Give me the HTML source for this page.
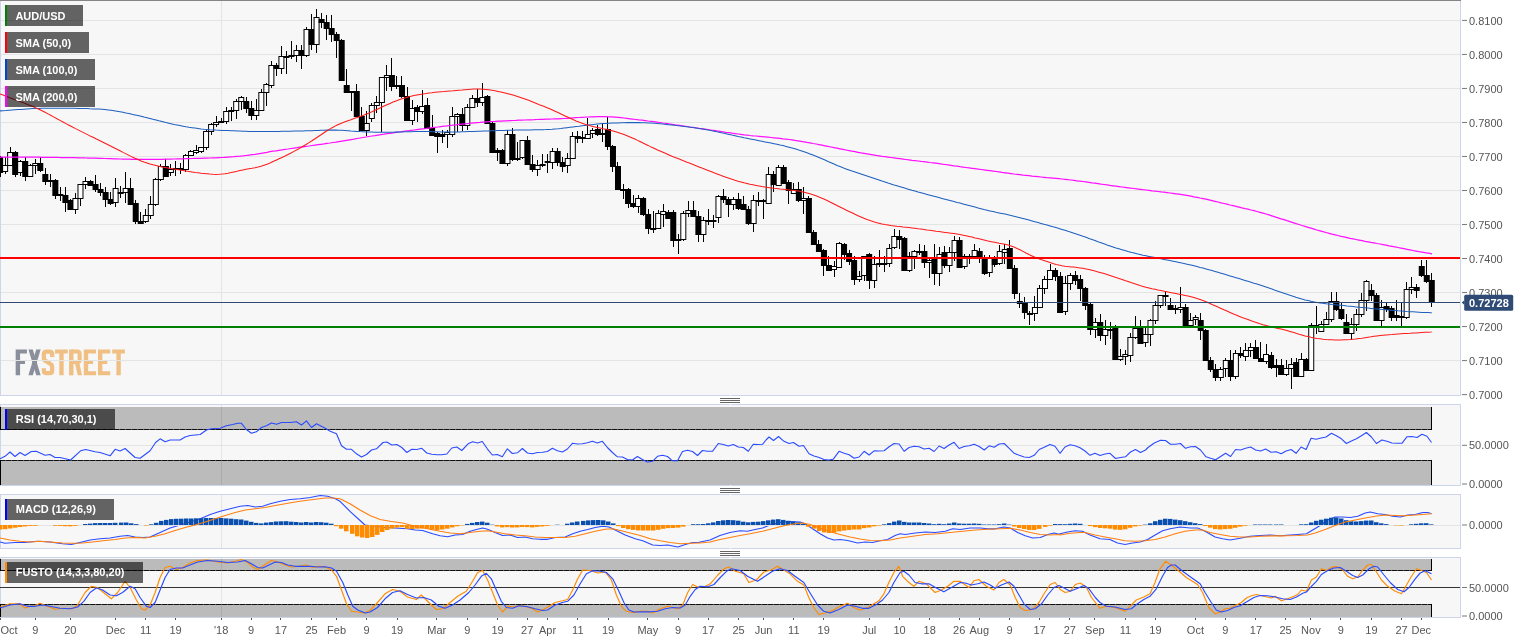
<!DOCTYPE html><html><head><meta charset="utf-8"><title>AUD/USD</title>
<style>
html,body{margin:0;padding:0;background:#fff;}
body{width:1531px;height:643px;overflow:hidden;position:relative;font-family:"Liberation Sans",sans-serif;}
svg{position:absolute;left:0;top:0;display:block;}
text{font-family:"Liberation Sans",sans-serif;}
.ax{font-size:11px;fill:#555;}
.lb{font-size:11px;font-weight:bold;fill:#fff;}
</style></head><body>
<svg width="1531" height="643" viewBox="0 0 1531 643" style="will-change:transform">
<rect x="0.5" y="0" width="1460" height="395.5" fill="#f7f7f7" stroke="#cdd5ea" stroke-width="1"/>
<rect x="0.5" y="404.5" width="1460" height="81.0" fill="#f7f7f7" stroke="#cdd5ea" stroke-width="1"/>
<rect x="0.5" y="494.5" width="1460" height="54.0" fill="#f7f7f7" stroke="#cdd5ea" stroke-width="1"/>
<rect x="0.5" y="557.5" width="1460" height="60.0" fill="#f7f7f7" stroke="#cdd5ea" stroke-width="1"/>
<rect x="0" y="0" width="1461" height="1" fill="#858585"/>
<g shape-rendering="crispEdges">
<line x1="1" x2="1460" y1="20.5" y2="20.5" stroke="#e4e4e4" stroke-width="1"/>
<line x1="1" x2="1460" y1="54.5" y2="54.5" stroke="#e4e4e4" stroke-width="1"/>
<line x1="1" x2="1460" y1="88.5" y2="88.5" stroke="#e4e4e4" stroke-width="1"/>
<line x1="1" x2="1460" y1="122.5" y2="122.5" stroke="#e4e4e4" stroke-width="1"/>
<line x1="1" x2="1460" y1="156.5" y2="156.5" stroke="#e4e4e4" stroke-width="1"/>
<line x1="1" x2="1460" y1="190.5" y2="190.5" stroke="#e4e4e4" stroke-width="1"/>
<line x1="1" x2="1460" y1="224.5" y2="224.5" stroke="#e4e4e4" stroke-width="1"/>
<line x1="1" x2="1460" y1="258.5" y2="258.5" stroke="#e4e4e4" stroke-width="1"/>
<line x1="1" x2="1460" y1="292.5" y2="292.5" stroke="#e4e4e4" stroke-width="1"/>
<line x1="1" x2="1460" y1="326.5" y2="326.5" stroke="#e4e4e4" stroke-width="1"/>
<line x1="1" x2="1460" y1="360.5" y2="360.5" stroke="#e4e4e4" stroke-width="1"/>
<line x1="221.5" x2="221.5" y1="0.5" y2="395.0" stroke="#e4e4e4" stroke-width="1"/>
<line x1="221.5" x2="221.5" y1="405.0" y2="485.0" stroke="#e4e4e4" stroke-width="1"/>
<line x1="221.5" x2="221.5" y1="495.0" y2="548.0" stroke="#e4e4e4" stroke-width="1"/>
<line x1="221.5" x2="221.5" y1="558.0" y2="617.0" stroke="#e4e4e4" stroke-width="1"/>
</g>
<g transform="translate(0,335) scale(0.09797)"><polygon fill="#8b8e9b" points="160,148 275,148 275,190 205,190 205,255 255,255 255,295 205,295 205,412 160,412"/><polygon fill="#8b8e9b" points="290,148 335,148 415,412 370,412"/><polygon fill="#8b8e9b" points="370,148 415,148 335,412 290,412"/><path fill="none" stroke="#f0bf84" stroke-width="44" d="M532,225 V195 Q532,170 505,170 H475 Q448,170 448,195 V238 Q448,258 470,268 L510,292 Q532,302 532,325 V365 Q532,390 505,390 H475 Q448,390 448,365 V340"/><polygon fill="#f0bf84" points="562,148 692,148 692,190 650,190 650,412 605,412 605,190 562,190"/><polygon fill="#f0bf84" points="1145,148 1275,148 1275,190 1233,190 1233,412 1188,412 1188,190 1145,190"/><rect fill="#f0bf84" x="705" y="148" width="45" height="264"/><path fill="none" stroke="#f0bf84" stroke-width="42" d="M727,169 H790 Q813,169 813,195 V250 Q813,276 790,276 H727"/><polygon fill="#f0bf84" points="765,285 810,285 837,412 793,412"/><polygon fill="#f0bf84" points="855,148 980,148 980,190 900,190 900,255 950,255 950,295 900,295 900,370 980,370 980,412 855,412"/><polygon fill="#f0bf84" points="1000,148 1125,148 1125,190 1045,190 1045,255 1095,255 1095,295 1045,295 1045,370 1125,370 1125,412 1000,412"/></g>
<line x1="1" x2="140" y1="360.5" y2="360.5" stroke="#e4e4e4" stroke-width="1" shape-rendering="crispEdges"/>
<g shape-rendering="crispEdges" fill="#000"><rect x="0" y="156" width="1" height="21"/><rect x="5" y="157" width="1" height="17"/><rect x="10" y="147" width="1" height="19"/><rect x="15" y="151" width="1" height="26"/><rect x="20" y="160" width="1" height="16"/><rect x="25" y="157" width="1" height="24"/><rect x="30" y="164" width="1" height="13"/><rect x="35" y="159" width="1" height="15"/><rect x="40" y="157" width="1" height="15"/><rect x="45" y="168" width="1" height="17"/><rect x="50" y="174" width="1" height="13"/><rect x="55" y="179" width="1" height="20"/><rect x="60" y="187" width="1" height="14"/><rect x="65" y="187" width="1" height="25"/><rect x="70" y="199" width="1" height="11"/><rect x="75" y="193" width="1" height="21"/><rect x="80" y="184" width="1" height="22"/><rect x="85" y="177" width="1" height="12"/><rect x="90" y="180" width="1" height="6"/><rect x="95" y="175" width="1" height="17"/><rect x="100" y="183" width="1" height="13"/><rect x="105" y="187" width="1" height="20"/><rect x="110" y="192" width="1" height="13"/><rect x="115" y="178" width="1" height="29"/><rect x="120" y="186" width="1" height="12"/><rect x="125" y="172" width="1" height="31"/><rect x="130" y="178" width="1" height="26"/><rect x="135" y="200" width="1" height="24"/><rect x="140" y="212" width="1" height="12"/><rect x="145" y="209" width="1" height="14"/><rect x="150" y="196" width="1" height="23"/><rect x="155" y="178" width="1" height="28"/><rect x="160" y="164" width="1" height="17"/><rect x="165" y="159" width="1" height="17"/><rect x="170" y="164" width="1" height="12"/><rect x="175" y="161" width="1" height="15"/><rect x="180" y="163" width="1" height="11"/><rect x="185" y="154" width="1" height="18"/><rect x="190" y="150" width="1" height="6"/><rect x="196" y="145" width="1" height="9"/><rect x="201" y="147" width="1" height="6"/><rect x="206" y="130" width="1" height="20"/><rect x="211" y="123" width="1" height="12"/><rect x="216" y="116" width="1" height="11"/><rect x="221" y="118" width="1" height="5"/><rect x="226" y="107" width="1" height="17"/><rect x="231" y="107" width="1" height="14"/><rect x="236" y="99" width="1" height="20"/><rect x="241" y="96" width="1" height="14"/><rect x="246" y="97" width="1" height="16"/><rect x="251" y="101" width="1" height="19"/><rect x="256" y="99" width="1" height="21"/><rect x="261" y="89" width="1" height="22"/><rect x="266" y="83" width="1" height="23"/><rect x="271" y="61" width="1" height="27"/><rect x="276" y="63" width="1" height="13"/><rect x="281" y="46" width="1" height="28"/><rect x="286" y="51" width="1" height="23"/><rect x="291" y="41" width="1" height="18"/><rect x="296" y="45" width="1" height="17"/><rect x="301" y="45" width="1" height="24"/><rect x="306" y="27" width="1" height="30"/><rect x="311" y="14" width="1" height="36"/><rect x="316" y="9" width="1" height="44"/><rect x="321" y="13" width="1" height="15"/><rect x="326" y="15" width="1" height="25"/><rect x="331" y="15" width="1" height="27"/><rect x="336" y="32" width="1" height="26"/><rect x="341" y="39" width="1" height="42"/><rect x="346" y="69" width="1" height="24"/><rect x="351" y="91" width="1" height="20"/><rect x="356" y="84" width="1" height="32"/><rect x="361" y="107" width="1" height="24"/><rect x="366" y="111" width="1" height="25"/><rect x="371" y="103" width="1" height="19"/><rect x="376" y="96" width="1" height="17"/><rect x="381" y="77" width="1" height="55"/><rect x="386" y="65" width="1" height="26"/><rect x="391" y="58" width="1" height="33"/><rect x="396" y="76" width="1" height="13"/><rect x="401" y="76" width="1" height="22"/><rect x="407" y="87" width="1" height="34"/><rect x="412" y="100" width="1" height="25"/><rect x="417" y="105" width="1" height="17"/><rect x="422" y="90" width="1" height="24"/><rect x="427" y="98" width="1" height="31"/><rect x="432" y="115" width="1" height="21"/><rect x="437" y="132" width="1" height="21"/><rect x="442" y="130" width="1" height="13"/><rect x="447" y="130" width="1" height="18"/><rect x="452" y="107" width="1" height="30"/><rect x="457" y="113" width="1" height="19"/><rect x="462" y="108" width="1" height="23"/><rect x="467" y="104" width="1" height="26"/><rect x="472" y="95" width="1" height="12"/><rect x="477" y="89" width="1" height="18"/><rect x="482" y="83" width="1" height="23"/><rect x="487" y="95" width="1" height="29"/><rect x="492" y="121" width="1" height="32"/><rect x="497" y="148" width="1" height="13"/><rect x="502" y="149" width="1" height="15"/><rect x="507" y="130" width="1" height="36"/><rect x="512" y="128" width="1" height="33"/><rect x="517" y="142" width="1" height="19"/><rect x="522" y="140" width="1" height="19"/><rect x="527" y="136" width="1" height="29"/><rect x="532" y="155" width="1" height="17"/><rect x="537" y="160" width="1" height="16"/><rect x="542" y="154" width="1" height="13"/><rect x="547" y="154" width="1" height="19"/><rect x="552" y="148" width="1" height="21"/><rect x="557" y="148" width="1" height="18"/><rect x="562" y="157" width="1" height="15"/><rect x="567" y="153" width="1" height="20"/><rect x="572" y="132" width="1" height="27"/><rect x="577" y="131" width="1" height="12"/><rect x="582" y="131" width="1" height="12"/><rect x="587" y="118" width="1" height="21"/><rect x="592" y="128" width="1" height="10"/><rect x="597" y="125" width="1" height="11"/><rect x="602" y="123" width="1" height="19"/><rect x="607" y="117" width="1" height="33"/><rect x="612" y="145" width="1" height="27"/><rect x="617" y="162" width="1" height="28"/><rect x="623" y="184" width="1" height="15"/><rect x="628" y="188" width="1" height="20"/><rect x="633" y="195" width="1" height="13"/><rect x="638" y="195" width="1" height="18"/><rect x="643" y="197" width="1" height="19"/><rect x="648" y="209" width="1" height="25"/><rect x="653" y="211" width="1" height="22"/><rect x="658" y="210" width="1" height="18"/><rect x="663" y="204" width="1" height="23"/><rect x="668" y="210" width="1" height="9"/><rect x="673" y="210" width="1" height="37"/><rect x="678" y="234" width="1" height="20"/><rect x="683" y="211" width="1" height="30"/><rect x="688" y="201" width="1" height="16"/><rect x="693" y="201" width="1" height="15"/><rect x="698" y="211" width="1" height="31"/><rect x="703" y="217" width="1" height="25"/><rect x="708" y="209" width="1" height="16"/><rect x="713" y="215" width="1" height="13"/><rect x="718" y="195" width="1" height="28"/><rect x="723" y="189" width="1" height="14"/><rect x="728" y="197" width="1" height="20"/><rect x="733" y="197" width="1" height="13"/><rect x="738" y="193" width="1" height="17"/><rect x="743" y="196" width="1" height="14"/><rect x="748" y="206" width="1" height="19"/><rect x="753" y="195" width="1" height="37"/><rect x="758" y="192" width="1" height="14"/><rect x="763" y="199" width="1" height="20"/><rect x="768" y="167" width="1" height="37"/><rect x="773" y="171" width="1" height="21"/><rect x="778" y="165" width="1" height="21"/><rect x="783" y="165" width="1" height="19"/><rect x="788" y="180" width="1" height="24"/><rect x="793" y="183" width="1" height="11"/><rect x="798" y="182" width="1" height="20"/><rect x="803" y="187" width="1" height="27"/><rect x="808" y="196" width="1" height="37"/><rect x="813" y="230" width="1" height="15"/><rect x="818" y="240" width="1" height="12"/><rect x="823" y="249" width="1" height="27"/><rect x="828" y="256" width="1" height="14"/><rect x="834" y="261" width="1" height="16"/><rect x="839" y="242" width="1" height="26"/><rect x="844" y="243" width="1" height="17"/><rect x="849" y="250" width="1" height="15"/><rect x="854" y="256" width="1" height="29"/><rect x="859" y="271" width="1" height="11"/><rect x="864" y="256" width="1" height="25"/><rect x="869" y="253" width="1" height="36"/><rect x="874" y="256" width="1" height="32"/><rect x="879" y="250" width="1" height="17"/><rect x="884" y="256" width="1" height="16"/><rect x="889" y="244" width="1" height="23"/><rect x="894" y="229" width="1" height="20"/><rect x="899" y="230" width="1" height="19"/><rect x="904" y="237" width="1" height="34"/><rect x="909" y="252" width="1" height="20"/><rect x="914" y="250" width="1" height="19"/><rect x="919" y="244" width="1" height="11"/><rect x="924" y="245" width="1" height="23"/><rect x="929" y="257" width="1" height="21"/><rect x="934" y="244" width="1" height="41"/><rect x="939" y="247" width="1" height="39"/><rect x="944" y="246" width="1" height="22"/><rect x="949" y="247" width="1" height="25"/><rect x="954" y="236" width="1" height="25"/><rect x="959" y="237" width="1" height="31"/><rect x="964" y="254" width="1" height="15"/><rect x="969" y="254" width="1" height="10"/><rect x="974" y="244" width="1" height="13"/><rect x="979" y="248" width="1" height="15"/><rect x="984" y="255" width="1" height="20"/><rect x="989" y="255" width="1" height="22"/><rect x="994" y="256" width="1" height="11"/><rect x="999" y="245" width="1" height="20"/><rect x="1004" y="244" width="1" height="20"/><rect x="1009" y="240" width="1" height="29"/><rect x="1014" y="265" width="1" height="34"/><rect x="1019" y="293" width="1" height="15"/><rect x="1024" y="297" width="1" height="22"/><rect x="1029" y="311" width="1" height="14"/><rect x="1034" y="296" width="1" height="25"/><rect x="1039" y="285" width="1" height="23"/><rect x="1044" y="276" width="1" height="18"/><rect x="1050" y="264" width="1" height="16"/><rect x="1055" y="268" width="1" height="13"/><rect x="1060" y="272" width="1" height="41"/><rect x="1065" y="276" width="1" height="39"/><rect x="1070" y="273" width="1" height="17"/><rect x="1075" y="271" width="1" height="14"/><rect x="1080" y="275" width="1" height="26"/><rect x="1085" y="287" width="1" height="23"/><rect x="1090" y="303" width="1" height="32"/><rect x="1095" y="318" width="1" height="20"/><rect x="1100" y="314" width="1" height="27"/><rect x="1105" y="320" width="1" height="25"/><rect x="1110" y="322" width="1" height="17"/><rect x="1115" y="325" width="1" height="35"/><rect x="1120" y="349" width="1" height="12"/><rect x="1125" y="350" width="1" height="15"/><rect x="1130" y="333" width="1" height="29"/><rect x="1135" y="316" width="1" height="23"/><rect x="1140" y="320" width="1" height="24"/><rect x="1145" y="328" width="1" height="19"/><rect x="1150" y="319" width="1" height="27"/><rect x="1155" y="301" width="1" height="23"/><rect x="1160" y="295" width="1" height="13"/><rect x="1165" y="291" width="1" height="15"/><rect x="1170" y="298" width="1" height="11"/><rect x="1175" y="305" width="1" height="9"/><rect x="1180" y="287" width="1" height="26"/><rect x="1185" y="304" width="1" height="21"/><rect x="1190" y="313" width="1" height="13"/><rect x="1195" y="315" width="1" height="10"/><rect x="1200" y="313" width="1" height="27"/><rect x="1205" y="329" width="1" height="31"/><rect x="1210" y="357" width="1" height="15"/><rect x="1215" y="364" width="1" height="17"/><rect x="1220" y="367" width="1" height="14"/><rect x="1225" y="358" width="1" height="19"/><rect x="1230" y="350" width="1" height="31"/><rect x="1235" y="350" width="1" height="29"/><rect x="1240" y="347" width="1" height="11"/><rect x="1245" y="343" width="1" height="18"/><rect x="1250" y="343" width="1" height="14"/><rect x="1255" y="340" width="1" height="19"/><rect x="1260" y="342" width="1" height="20"/><rect x="1266" y="344" width="1" height="20"/><rect x="1271" y="352" width="1" height="17"/><rect x="1276" y="359" width="1" height="18"/><rect x="1281" y="359" width="1" height="16"/><rect x="1286" y="360" width="1" height="16"/><rect x="1291" y="358" width="1" height="31"/><rect x="1296" y="358" width="1" height="19"/><rect x="1301" y="353" width="1" height="24"/><rect x="1306" y="358" width="1" height="13"/><rect x="1311" y="323" width="1" height="48"/><rect x="1316" y="306" width="1" height="28"/><rect x="1321" y="321" width="1" height="11"/><rect x="1326" y="312" width="1" height="13"/><rect x="1331" y="292" width="1" height="30"/><rect x="1336" y="292" width="1" height="19"/><rect x="1341" y="303" width="1" height="17"/><rect x="1346" y="314" width="1" height="20"/><rect x="1351" y="318" width="1" height="22"/><rect x="1356" y="309" width="1" height="22"/><rect x="1361" y="293" width="1" height="24"/><rect x="1366" y="280" width="1" height="31"/><rect x="1371" y="284" width="1" height="17"/><rect x="1376" y="293" width="1" height="28"/><rect x="1381" y="300" width="1" height="26"/><rect x="1386" y="303" width="1" height="9"/><rect x="1391" y="306" width="1" height="15"/><rect x="1396" y="300" width="1" height="21"/><rect x="1401" y="302" width="1" height="24"/><rect x="1406" y="282" width="1" height="37"/><rect x="1411" y="277" width="1" height="17"/><rect x="1416" y="284" width="1" height="14"/><rect x="1421" y="260" width="1" height="17"/><rect x="1426" y="260" width="1" height="23"/><rect x="1431" y="273" width="1" height="34"/></g>
<g fill="#000"><rect x="-2.90" y="157" width="6" height="16"/><rect x="2.12" y="165" width="6" height="7"/><rect x="3.12" y="166" width="4" height="5" fill="#fff"/><rect x="7.15" y="152" width="6" height="14"/><rect x="8.15" y="153" width="4" height="12" fill="#fff"/><rect x="12.17" y="152" width="6" height="23"/><rect x="17.19" y="161" width="6" height="12"/><rect x="18.19" y="162" width="4" height="10" fill="#fff"/><rect x="22.22" y="161" width="6" height="16"/><rect x="27.24" y="165" width="6" height="12"/><rect x="28.24" y="166" width="4" height="10" fill="#fff"/><rect x="32.26" y="163" width="6" height="3"/><rect x="33.26" y="164" width="4" height="1" fill="#fff"/><rect x="37.29" y="163" width="6" height="8"/><rect x="42.31" y="174" width="6" height="8"/><rect x="47.34" y="180" width="6" height="2"/><rect x="52.36" y="180" width="6" height="16"/><rect x="57.38" y="194" width="6" height="2"/><rect x="62.41" y="195" width="6" height="8"/><rect x="67.43" y="200" width="6" height="10"/><rect x="72.45" y="198" width="6" height="12"/><rect x="73.45" y="199" width="4" height="10" fill="#fff"/><rect x="77.48" y="184" width="6" height="15"/><rect x="78.48" y="185" width="4" height="13" fill="#fff"/><rect x="82.50" y="181" width="6" height="4"/><rect x="83.50" y="182" width="4" height="2" fill="#fff"/><rect x="87.52" y="181" width="6" height="5"/><rect x="92.55" y="184" width="6" height="6"/><rect x="97.57" y="189" width="6" height="4"/><rect x="102.59" y="192" width="6" height="8"/><rect x="107.62" y="199" width="6" height="5"/><rect x="112.64" y="188" width="6" height="15"/><rect x="113.64" y="189" width="4" height="13" fill="#fff"/><rect x="117.66" y="192" width="6" height="2"/><rect x="122.69" y="188" width="6" height="5"/><rect x="123.69" y="189" width="4" height="3" fill="#fff"/><rect x="127.71" y="188" width="6" height="17"/><rect x="132.73" y="203" width="6" height="19"/><rect x="137.76" y="221" width="6" height="3"/><rect x="142.78" y="215" width="6" height="7"/><rect x="143.78" y="216" width="4" height="5" fill="#fff"/><rect x="147.81" y="204" width="6" height="12"/><rect x="148.81" y="205" width="4" height="10" fill="#fff"/><rect x="152.83" y="179" width="6" height="26"/><rect x="153.83" y="180" width="4" height="24" fill="#fff"/><rect x="157.85" y="166" width="6" height="14"/><rect x="158.85" y="167" width="4" height="12" fill="#fff"/><rect x="162.88" y="166" width="6" height="11"/><rect x="167.90" y="169" width="6" height="4"/><rect x="168.90" y="170" width="4" height="2" fill="#fff"/><rect x="172.92" y="168" width="6" height="2"/><rect x="177.95" y="168" width="6" height="2"/><rect x="182.97" y="155" width="6" height="15"/><rect x="183.97" y="156" width="4" height="13" fill="#fff"/><rect x="187.99" y="151" width="6" height="5"/><rect x="188.99" y="152" width="4" height="3" fill="#fff"/><rect x="193.02" y="150" width="6" height="3"/><rect x="194.02" y="151" width="4" height="1" fill="#fff"/><rect x="198.04" y="147" width="6" height="5"/><rect x="199.04" y="148" width="4" height="3" fill="#fff"/><rect x="203.06" y="131" width="6" height="17"/><rect x="204.06" y="132" width="4" height="15" fill="#fff"/><rect x="208.09" y="124" width="6" height="8"/><rect x="209.09" y="125" width="4" height="6" fill="#fff"/><rect x="213.11" y="122" width="6" height="3"/><rect x="214.11" y="123" width="4" height="1" fill="#fff"/><rect x="218.13" y="121" width="6" height="2"/><rect x="223.16" y="111" width="6" height="11"/><rect x="224.16" y="112" width="4" height="9" fill="#fff"/><rect x="228.18" y="110" width="6" height="2"/><rect x="233.20" y="101" width="6" height="10"/><rect x="234.20" y="102" width="4" height="8" fill="#fff"/><rect x="238.23" y="97" width="6" height="5"/><rect x="239.23" y="98" width="4" height="3" fill="#fff"/><rect x="243.25" y="101" width="6" height="8"/><rect x="248.28" y="108" width="6" height="8"/><rect x="253.30" y="110" width="6" height="6"/><rect x="254.30" y="111" width="4" height="4" fill="#fff"/><rect x="258.32" y="92" width="6" height="19"/><rect x="259.32" y="93" width="4" height="17" fill="#fff"/><rect x="263.35" y="84" width="6" height="9"/><rect x="264.35" y="85" width="4" height="7" fill="#fff"/><rect x="268.37" y="65" width="6" height="21"/><rect x="269.37" y="66" width="4" height="19" fill="#fff"/><rect x="273.39" y="65" width="6" height="4"/><rect x="278.42" y="56" width="6" height="13"/><rect x="279.42" y="57" width="4" height="11" fill="#fff"/><rect x="283.44" y="56" width="6" height="2"/><rect x="288.46" y="55" width="6" height="2"/><rect x="293.49" y="50" width="6" height="6"/><rect x="294.49" y="51" width="4" height="4" fill="#fff"/><rect x="298.51" y="50" width="6" height="6"/><rect x="303.53" y="29" width="6" height="27"/><rect x="304.53" y="30" width="4" height="25" fill="#fff"/><rect x="308.56" y="29" width="6" height="16"/><rect x="313.58" y="17" width="6" height="28"/><rect x="314.58" y="18" width="4" height="26" fill="#fff"/><rect x="318.60" y="19" width="6" height="4"/><rect x="323.63" y="22" width="6" height="7"/><rect x="328.65" y="28" width="6" height="7"/><rect x="333.67" y="34" width="6" height="7"/><rect x="338.70" y="40" width="6" height="41"/><rect x="343.72" y="85" width="6" height="8"/><rect x="348.75" y="91" width="6" height="2"/><rect x="353.77" y="91" width="6" height="26"/><rect x="358.79" y="116" width="6" height="15"/><rect x="363.82" y="123" width="6" height="8"/><rect x="364.82" y="124" width="4" height="6" fill="#fff"/><rect x="368.84" y="105" width="6" height="14"/><rect x="369.84" y="106" width="4" height="12" fill="#fff"/><rect x="373.86" y="102" width="6" height="4"/><rect x="374.86" y="103" width="4" height="2" fill="#fff"/><rect x="378.89" y="77" width="6" height="26"/><rect x="379.89" y="78" width="4" height="24" fill="#fff"/><rect x="383.91" y="75" width="6" height="3"/><rect x="384.91" y="76" width="4" height="1" fill="#fff"/><rect x="388.93" y="75" width="6" height="12"/><rect x="393.96" y="85" width="6" height="2"/><rect x="398.98" y="85" width="6" height="12"/><rect x="404.00" y="96" width="6" height="25"/><rect x="409.03" y="108" width="6" height="13"/><rect x="410.03" y="109" width="4" height="11" fill="#fff"/><rect x="414.05" y="107" width="6" height="5"/><rect x="419.07" y="106" width="6" height="6"/><rect x="420.07" y="107" width="4" height="4" fill="#fff"/><rect x="424.10" y="105" width="6" height="24"/><rect x="429.12" y="128" width="6" height="8"/><rect x="434.14" y="133" width="6" height="4"/><rect x="439.17" y="134" width="6" height="3"/><rect x="444.19" y="132" width="6" height="3"/><rect x="445.19" y="133" width="4" height="1" fill="#fff"/><rect x="449.22" y="116" width="6" height="19"/><rect x="450.22" y="117" width="4" height="17" fill="#fff"/><rect x="454.24" y="114" width="6" height="3"/><rect x="455.24" y="115" width="4" height="1" fill="#fff"/><rect x="459.26" y="114" width="6" height="12"/><rect x="464.29" y="107" width="6" height="19"/><rect x="465.29" y="108" width="4" height="17" fill="#fff"/><rect x="469.31" y="98" width="6" height="10"/><rect x="470.31" y="99" width="4" height="8" fill="#fff"/><rect x="474.33" y="98" width="6" height="5"/><rect x="479.36" y="97" width="6" height="6"/><rect x="480.36" y="98" width="4" height="4" fill="#fff"/><rect x="484.38" y="96" width="6" height="28"/><rect x="489.40" y="123" width="6" height="30"/><rect x="494.43" y="150" width="6" height="3"/><rect x="499.45" y="150" width="6" height="14"/><rect x="504.47" y="134" width="6" height="30"/><rect x="505.47" y="135" width="4" height="28" fill="#fff"/><rect x="509.50" y="134" width="6" height="26"/><rect x="514.52" y="158" width="6" height="2"/><rect x="519.54" y="140" width="6" height="18"/><rect x="520.54" y="141" width="4" height="16" fill="#fff"/><rect x="524.57" y="140" width="6" height="25"/><rect x="529.59" y="164" width="6" height="6"/><rect x="534.61" y="165" width="6" height="5"/><rect x="535.61" y="166" width="4" height="3" fill="#fff"/><rect x="539.64" y="164" width="6" height="2"/><rect x="544.66" y="161" width="6" height="2"/><rect x="549.69" y="151" width="6" height="12"/><rect x="550.69" y="152" width="4" height="10" fill="#fff"/><rect x="554.71" y="151" width="6" height="12"/><rect x="559.73" y="162" width="6" height="5"/><rect x="564.76" y="158" width="6" height="8"/><rect x="565.76" y="159" width="4" height="6" fill="#fff"/><rect x="569.78" y="136" width="6" height="23"/><rect x="570.78" y="137" width="4" height="21" fill="#fff"/><rect x="574.80" y="136" width="6" height="3"/><rect x="579.83" y="137" width="6" height="2"/><rect x="584.85" y="134" width="6" height="5"/><rect x="585.85" y="135" width="4" height="3" fill="#fff"/><rect x="589.87" y="130" width="6" height="4"/><rect x="590.87" y="131" width="4" height="2" fill="#fff"/><rect x="594.90" y="129" width="6" height="6"/><rect x="599.92" y="133" width="6" height="2"/><rect x="604.94" y="129" width="6" height="18"/><rect x="609.97" y="146" width="6" height="21"/><rect x="614.99" y="166" width="6" height="24"/><rect x="620.01" y="189" width="6" height="2"/><rect x="625.04" y="189" width="6" height="15"/><rect x="630.06" y="203" width="6" height="4"/><rect x="635.08" y="198" width="6" height="9"/><rect x="636.08" y="199" width="4" height="7" fill="#fff"/><rect x="640.11" y="198" width="6" height="17"/><rect x="645.13" y="214" width="6" height="15"/><rect x="650.16" y="228" width="6" height="2"/><rect x="655.18" y="213" width="6" height="16"/><rect x="656.18" y="214" width="4" height="14" fill="#fff"/><rect x="660.20" y="211" width="6" height="4"/><rect x="661.20" y="212" width="4" height="2" fill="#fff"/><rect x="665.23" y="212" width="6" height="7"/><rect x="670.25" y="212" width="6" height="29"/><rect x="675.27" y="239" width="6" height="2"/><rect x="680.30" y="213" width="6" height="27"/><rect x="681.30" y="214" width="4" height="25" fill="#fff"/><rect x="685.32" y="210" width="6" height="4"/><rect x="686.32" y="211" width="4" height="2" fill="#fff"/><rect x="690.34" y="210" width="6" height="7"/><rect x="695.37" y="216" width="6" height="19"/><rect x="700.39" y="220" width="6" height="15"/><rect x="701.39" y="221" width="4" height="13" fill="#fff"/><rect x="705.41" y="220" width="6" height="2"/><rect x="710.44" y="220" width="6" height="2"/><rect x="715.46" y="196" width="6" height="22"/><rect x="716.46" y="197" width="4" height="20" fill="#fff"/><rect x="720.48" y="196" width="6" height="4"/><rect x="725.51" y="199" width="6" height="6"/><rect x="730.53" y="199" width="6" height="6"/><rect x="731.53" y="200" width="4" height="4" fill="#fff"/><rect x="735.55" y="199" width="6" height="10"/><rect x="740.58" y="204" width="6" height="6"/><rect x="745.60" y="209" width="6" height="15"/><rect x="750.63" y="200" width="6" height="24"/><rect x="751.63" y="201" width="4" height="22" fill="#fff"/><rect x="755.65" y="200" width="6" height="2"/><rect x="760.67" y="200" width="6" height="2"/><rect x="765.70" y="174" width="6" height="30"/><rect x="766.70" y="175" width="4" height="28" fill="#fff"/><rect x="770.72" y="174" width="6" height="11"/><rect x="775.74" y="167" width="6" height="19"/><rect x="776.74" y="168" width="4" height="17" fill="#fff"/><rect x="780.77" y="167" width="6" height="17"/><rect x="785.79" y="182" width="6" height="9"/><rect x="790.81" y="189" width="6" height="5"/><rect x="791.81" y="190" width="4" height="3" fill="#fff"/><rect x="795.84" y="189" width="6" height="12"/><rect x="800.86" y="198" width="6" height="3"/><rect x="801.86" y="199" width="4" height="1" fill="#fff"/><rect x="805.88" y="198" width="6" height="35"/><rect x="810.91" y="232" width="6" height="13"/><rect x="815.93" y="244" width="6" height="8"/><rect x="820.95" y="250" width="6" height="16"/><rect x="825.98" y="265" width="6" height="6"/><rect x="831.00" y="266" width="6" height="4"/><rect x="832.00" y="267" width="4" height="2" fill="#fff"/><rect x="836.02" y="243" width="6" height="25"/><rect x="837.02" y="244" width="4" height="23" fill="#fff"/><rect x="841.05" y="244" width="6" height="11"/><rect x="846.07" y="253" width="6" height="9"/><rect x="851.10" y="260" width="6" height="20"/><rect x="856.12" y="276" width="6" height="4"/><rect x="857.12" y="277" width="4" height="2" fill="#fff"/><rect x="861.14" y="256" width="6" height="20"/><rect x="862.14" y="257" width="4" height="18" fill="#fff"/><rect x="866.17" y="254" width="6" height="27"/><rect x="871.19" y="264" width="6" height="17"/><rect x="872.19" y="265" width="4" height="15" fill="#fff"/><rect x="876.21" y="263" width="6" height="2"/><rect x="881.24" y="263" width="6" height="2"/><rect x="886.26" y="248" width="6" height="16"/><rect x="887.26" y="249" width="4" height="14" fill="#fff"/><rect x="891.28" y="236" width="6" height="12"/><rect x="892.28" y="237" width="4" height="10" fill="#fff"/><rect x="896.31" y="236" width="6" height="4"/><rect x="901.33" y="238" width="6" height="33"/><rect x="906.35" y="256" width="6" height="15"/><rect x="907.35" y="257" width="4" height="13" fill="#fff"/><rect x="911.38" y="251" width="6" height="6"/><rect x="912.38" y="252" width="4" height="4" fill="#fff"/><rect x="916.40" y="251" width="6" height="2"/><rect x="921.42" y="251" width="6" height="12"/><rect x="926.45" y="260" width="6" height="3"/><rect x="927.45" y="261" width="4" height="1" fill="#fff"/><rect x="931.47" y="259" width="6" height="15"/><rect x="936.49" y="254" width="6" height="20"/><rect x="937.49" y="255" width="4" height="18" fill="#fff"/><rect x="941.52" y="252" width="6" height="14"/><rect x="946.54" y="252" width="6" height="14"/><rect x="947.54" y="253" width="4" height="12" fill="#fff"/><rect x="951.57" y="240" width="6" height="13"/><rect x="952.57" y="241" width="4" height="11" fill="#fff"/><rect x="956.59" y="240" width="6" height="28"/><rect x="961.61" y="256" width="6" height="11"/><rect x="962.61" y="257" width="4" height="9" fill="#fff"/><rect x="966.64" y="256" width="6" height="2"/><rect x="971.66" y="250" width="6" height="7"/><rect x="972.66" y="251" width="4" height="5" fill="#fff"/><rect x="976.68" y="251" width="6" height="7"/><rect x="981.71" y="257" width="6" height="17"/><rect x="986.73" y="257" width="6" height="16"/><rect x="987.73" y="258" width="4" height="14" fill="#fff"/><rect x="991.75" y="257" width="6" height="8"/><rect x="996.78" y="251" width="6" height="13"/><rect x="997.78" y="252" width="4" height="11" fill="#fff"/><rect x="1001.80" y="249" width="6" height="4"/><rect x="1002.80" y="250" width="4" height="2" fill="#fff"/><rect x="1006.82" y="248" width="6" height="21"/><rect x="1011.85" y="268" width="6" height="26"/><rect x="1016.87" y="301" width="6" height="3"/><rect x="1021.89" y="303" width="6" height="10"/><rect x="1026.92" y="313" width="6" height="2"/><rect x="1031.94" y="307" width="6" height="7"/><rect x="1032.94" y="308" width="4" height="5" fill="#fff"/><rect x="1036.96" y="288" width="6" height="20"/><rect x="1037.96" y="289" width="4" height="18" fill="#fff"/><rect x="1041.99" y="279" width="6" height="10"/><rect x="1042.99" y="280" width="4" height="8" fill="#fff"/><rect x="1047.01" y="270" width="6" height="10"/><rect x="1048.01" y="271" width="4" height="8" fill="#fff"/><rect x="1052.04" y="270" width="6" height="7"/><rect x="1057.06" y="276" width="6" height="37"/><rect x="1062.08" y="283" width="6" height="29"/><rect x="1063.08" y="284" width="4" height="27" fill="#fff"/><rect x="1067.11" y="275" width="6" height="9"/><rect x="1068.11" y="276" width="4" height="7" fill="#fff"/><rect x="1072.13" y="275" width="6" height="6"/><rect x="1077.15" y="279" width="6" height="10"/><rect x="1082.18" y="288" width="6" height="18"/><rect x="1087.20" y="304" width="6" height="26"/><rect x="1092.22" y="322" width="6" height="8"/><rect x="1093.22" y="323" width="4" height="6" fill="#fff"/><rect x="1097.25" y="322" width="6" height="14"/><rect x="1102.27" y="329" width="6" height="7"/><rect x="1103.27" y="330" width="4" height="5" fill="#fff"/><rect x="1107.29" y="329" width="6" height="2"/><rect x="1112.32" y="326" width="6" height="34"/><rect x="1117.34" y="356" width="6" height="4"/><rect x="1118.34" y="357" width="4" height="2" fill="#fff"/><rect x="1122.36" y="354" width="6" height="3"/><rect x="1123.36" y="355" width="4" height="1" fill="#fff"/><rect x="1127.39" y="337" width="6" height="19"/><rect x="1128.39" y="338" width="4" height="17" fill="#fff"/><rect x="1132.41" y="328" width="6" height="10"/><rect x="1133.41" y="329" width="4" height="8" fill="#fff"/><rect x="1137.43" y="328" width="6" height="16"/><rect x="1142.46" y="334" width="6" height="9"/><rect x="1143.46" y="335" width="4" height="7" fill="#fff"/><rect x="1147.48" y="320" width="6" height="15"/><rect x="1148.48" y="321" width="4" height="13" fill="#fff"/><rect x="1152.50" y="305" width="6" height="16"/><rect x="1153.50" y="306" width="4" height="14" fill="#fff"/><rect x="1157.53" y="295" width="6" height="11"/><rect x="1158.53" y="296" width="4" height="9" fill="#fff"/><rect x="1162.55" y="295" width="6" height="2"/><rect x="1167.58" y="305" width="6" height="5"/><rect x="1172.60" y="308" width="6" height="2"/><rect x="1177.62" y="307" width="6" height="3"/><rect x="1178.62" y="308" width="4" height="1" fill="#fff"/><rect x="1182.65" y="307" width="6" height="19"/><rect x="1187.67" y="320" width="6" height="6"/><rect x="1188.67" y="321" width="4" height="4" fill="#fff"/><rect x="1192.69" y="317" width="6" height="3"/><rect x="1193.69" y="318" width="4" height="1" fill="#fff"/><rect x="1197.72" y="320" width="6" height="11"/><rect x="1202.74" y="330" width="6" height="31"/><rect x="1207.76" y="360" width="6" height="10"/><rect x="1212.79" y="369" width="6" height="9"/><rect x="1217.81" y="369" width="6" height="9"/><rect x="1218.81" y="370" width="4" height="7" fill="#fff"/><rect x="1222.83" y="360" width="6" height="9"/><rect x="1223.83" y="361" width="4" height="7" fill="#fff"/><rect x="1227.86" y="360" width="6" height="17"/><rect x="1232.88" y="353" width="6" height="24"/><rect x="1233.88" y="354" width="4" height="22" fill="#fff"/><rect x="1237.90" y="353" width="6" height="3"/><rect x="1242.93" y="350" width="6" height="7"/><rect x="1243.93" y="351" width="4" height="5" fill="#fff"/><rect x="1247.95" y="347" width="6" height="4"/><rect x="1248.95" y="348" width="4" height="2" fill="#fff"/><rect x="1252.97" y="347" width="6" height="12"/><rect x="1258.00" y="358" width="6" height="4"/><rect x="1263.02" y="354" width="6" height="8"/><rect x="1264.02" y="355" width="4" height="6" fill="#fff"/><rect x="1268.05" y="355" width="6" height="13"/><rect x="1273.07" y="365" width="6" height="3"/><rect x="1278.09" y="365" width="6" height="10"/><rect x="1283.12" y="368" width="6" height="7"/><rect x="1284.12" y="369" width="4" height="5" fill="#fff"/><rect x="1288.14" y="364" width="6" height="5"/><rect x="1289.14" y="365" width="4" height="3" fill="#fff"/><rect x="1293.16" y="362" width="6" height="15"/><rect x="1298.19" y="359" width="6" height="18"/><rect x="1299.19" y="360" width="4" height="16" fill="#fff"/><rect x="1303.21" y="359" width="6" height="12"/><rect x="1308.23" y="325" width="6" height="46"/><rect x="1309.23" y="326" width="4" height="44" fill="#fff"/><rect x="1313.26" y="325" width="6" height="3"/><rect x="1314.26" y="326" width="4" height="1" fill="#fff"/><rect x="1318.28" y="324" width="6" height="8"/><rect x="1319.28" y="325" width="4" height="6" fill="#fff"/><rect x="1323.30" y="319" width="6" height="6"/><rect x="1324.30" y="320" width="4" height="4" fill="#fff"/><rect x="1328.33" y="301" width="6" height="19"/><rect x="1329.33" y="302" width="4" height="17" fill="#fff"/><rect x="1333.35" y="301" width="6" height="9"/><rect x="1338.37" y="309" width="6" height="10"/><rect x="1343.40" y="322" width="6" height="12"/><rect x="1348.42" y="324" width="6" height="10"/><rect x="1349.42" y="325" width="4" height="8" fill="#fff"/><rect x="1353.44" y="314" width="6" height="11"/><rect x="1354.44" y="315" width="4" height="9" fill="#fff"/><rect x="1358.47" y="300" width="6" height="15"/><rect x="1359.47" y="301" width="4" height="13" fill="#fff"/><rect x="1363.49" y="281" width="6" height="20"/><rect x="1364.49" y="282" width="4" height="18" fill="#fff"/><rect x="1368.52" y="290" width="6" height="6"/><rect x="1373.54" y="295" width="6" height="26"/><rect x="1378.56" y="307" width="6" height="14"/><rect x="1379.56" y="308" width="4" height="12" fill="#fff"/><rect x="1383.59" y="306" width="6" height="4"/><rect x="1388.61" y="308" width="6" height="10"/><rect x="1393.63" y="315" width="6" height="3"/><rect x="1398.66" y="316" width="6" height="2"/><rect x="1403.68" y="289" width="6" height="29"/><rect x="1404.68" y="290" width="4" height="27" fill="#fff"/><rect x="1408.70" y="287" width="6" height="3"/><rect x="1409.70" y="288" width="4" height="1" fill="#fff"/><rect x="1413.73" y="287" width="6" height="4"/><rect x="1418.75" y="266" width="6" height="10"/><rect x="1423.77" y="275" width="6" height="7"/><rect x="1428.80" y="280" width="6" height="23"/></g>
<polyline points="0.0,157.0 3.0,157.0 6.0,157.0 9.0,157.1 12.0,157.1 15.0,157.1 18.0,157.1 21.0,157.1 24.0,157.1 27.0,157.2 30.0,157.2 33.0,157.2 36.0,157.2 39.0,157.2 42.0,157.3 45.0,157.3 48.0,157.3 51.0,157.4 54.0,157.4 57.0,157.4 60.0,157.5 63.0,157.5 66.0,157.6 69.0,157.6 72.0,157.7 75.0,157.7 78.0,157.8 81.0,157.9 84.0,157.9 87.0,158.0 90.0,158.0 93.0,158.1 96.0,158.2 99.0,158.3 102.0,158.4 105.0,158.5 108.0,158.6 111.0,158.7 114.0,158.8 117.0,158.9 120.0,159.0 123.0,159.1 126.0,159.2 129.0,159.2 132.0,159.3 135.0,159.3 138.0,159.3 141.0,159.3 144.0,159.4 147.0,159.4 150.0,159.4 153.0,159.4 156.0,159.3 159.0,159.3 162.0,159.3 165.0,159.2 168.0,159.2 171.0,159.1 174.0,159.0 177.0,158.9 180.0,158.9 183.0,158.8 186.0,158.7 189.0,158.6 192.0,158.5 195.0,158.4 198.0,158.4 201.0,158.3 204.0,158.2 207.0,158.1 210.0,158.0 213.0,157.9 216.0,157.8 219.0,157.6 222.0,157.5 225.0,157.3 228.0,157.1 231.0,156.9 234.0,156.7 237.0,156.4 240.0,156.2 243.0,155.9 246.0,155.5 249.0,155.1 252.0,154.7 255.0,154.3 258.0,153.8 261.0,153.3 264.0,152.8 267.0,152.3 270.0,151.7 273.0,151.2 276.0,150.8 279.0,150.3 282.0,149.9 285.0,149.4 288.0,149.0 291.0,148.5 294.0,148.1 297.0,147.7 300.0,147.2 303.0,146.8 306.0,146.4 309.0,146.0 312.0,145.5 315.0,145.1 318.0,144.7 321.0,144.3 324.0,143.9 327.0,143.4 330.0,143.0 333.0,142.5 336.0,142.1 339.0,141.6 342.0,141.1 345.0,140.6 348.0,140.1 351.0,139.6 354.0,139.1 357.0,138.5 360.0,138.0 363.0,137.5 366.0,137.0 369.0,136.5 372.0,136.0 375.0,135.6 378.0,135.1 381.0,134.6 384.0,134.2 387.0,133.7 390.0,133.3 393.0,132.9 396.0,132.4 399.0,132.0 402.0,131.6 405.0,131.2 408.0,130.8 411.0,130.4 414.0,130.0 417.0,129.6 420.0,129.2 423.0,128.8 426.0,128.5 429.0,128.1 432.0,127.7 435.0,127.3 438.0,127.0 441.0,126.6 444.0,126.2 447.0,125.9 450.0,125.5 453.0,125.1 456.0,124.8 459.0,124.4 462.0,124.1 465.0,123.8 468.0,123.5 471.0,123.2 474.0,122.9 477.0,122.6 480.0,122.4 483.0,122.1 486.0,121.9 489.0,121.7 492.0,121.5 495.0,121.4 498.0,121.2 501.0,121.1 504.0,120.9 507.0,120.8 510.0,120.6 513.0,120.5 516.0,120.4 519.0,120.2 522.0,120.1 525.0,120.0 528.0,119.9 531.0,119.8 534.0,119.7 537.0,119.5 540.0,119.4 543.0,119.3 546.0,119.2 549.0,119.1 552.0,119.0 555.0,118.9 558.0,118.8 561.0,118.6 564.0,118.5 567.0,118.3 570.0,118.1 573.0,117.9 576.0,117.7 579.0,117.5 582.0,117.3 585.0,117.2 588.0,117.0 591.0,116.9 594.0,116.8 597.0,116.7 600.0,116.7 603.0,116.7 606.0,116.7 609.0,116.8 612.0,116.9 615.0,117.1 618.0,117.4 621.0,117.7 624.0,118.0 627.0,118.4 630.0,118.8 633.0,119.2 636.0,119.5 639.0,119.9 642.0,120.2 645.0,120.6 648.0,121.0 651.0,121.3 654.0,121.7 657.0,122.1 660.0,122.5 663.0,123.0 666.0,123.4 669.0,123.9 672.0,124.3 675.0,124.8 678.0,125.2 681.0,125.7 684.0,126.1 687.0,126.5 690.0,127.0 693.0,127.4 696.0,127.8 699.0,128.3 702.0,128.7 705.0,129.1 708.0,129.5 711.0,130.0 714.0,130.4 717.0,130.9 720.0,131.3 723.0,131.8 726.0,132.3 729.0,132.7 732.0,133.2 735.0,133.6 738.0,134.0 741.0,134.4 744.0,134.8 747.0,135.1 750.0,135.5 753.0,135.8 756.0,136.0 759.0,136.3 762.0,136.6 765.0,136.9 768.0,137.2 771.0,137.5 774.0,137.8 777.0,138.1 780.0,138.4 783.0,138.8 786.0,139.1 789.0,139.5 792.0,139.9 795.0,140.4 798.0,140.8 801.0,141.3 804.0,141.8 807.0,142.4 810.0,142.9 813.0,143.5 816.0,144.0 819.0,144.6 822.0,145.2 825.0,145.8 828.0,146.4 831.0,147.0 834.0,147.6 837.0,148.2 840.0,148.8 843.0,149.4 846.0,150.0 849.0,150.6 852.0,151.2 855.0,151.7 858.0,152.3 861.0,152.9 864.0,153.4 867.0,153.9 870.0,154.4 873.0,154.9 876.0,155.4 879.0,155.8 882.0,156.3 885.0,156.7 888.0,157.1 891.0,157.5 894.0,157.9 897.0,158.3 900.0,158.7 903.0,159.1 906.0,159.5 909.0,159.9 912.0,160.3 915.0,160.6 918.0,161.0 921.0,161.4 924.0,161.7 927.0,162.1 930.0,162.5 933.0,162.8 936.0,163.2 939.0,163.6 942.0,164.1 945.0,164.5 948.0,164.9 951.0,165.3 954.0,165.8 957.0,166.2 960.0,166.7 963.0,167.1 966.0,167.5 969.0,167.9 972.0,168.3 975.0,168.7 978.0,169.1 981.0,169.5 984.0,169.9 987.0,170.3 990.0,170.7 993.0,171.1 996.0,171.5 999.0,171.9 1002.0,172.4 1005.0,172.8 1008.0,173.2 1011.0,173.6 1014.0,174.0 1017.0,174.3 1020.0,174.7 1023.0,175.1 1026.0,175.4 1029.0,175.7 1032.0,176.1 1035.0,176.4 1038.0,176.7 1041.0,177.0 1044.0,177.3 1047.0,177.6 1050.0,177.8 1053.0,178.1 1056.0,178.4 1059.0,178.7 1062.0,179.0 1065.0,179.3 1068.0,179.7 1071.0,180.0 1074.0,180.4 1077.0,180.8 1080.0,181.1 1083.0,181.5 1086.0,181.9 1089.0,182.3 1092.0,182.8 1095.0,183.2 1098.0,183.6 1101.0,184.1 1104.0,184.5 1107.0,184.9 1110.0,185.4 1113.0,185.8 1116.0,186.2 1119.0,186.6 1122.0,187.0 1125.0,187.4 1128.0,187.8 1131.0,188.2 1134.0,188.5 1137.0,188.9 1140.0,189.3 1143.0,189.7 1146.0,190.0 1149.0,190.4 1152.0,190.8 1155.0,191.1 1158.0,191.5 1161.0,191.9 1164.0,192.2 1167.0,192.6 1170.0,193.0 1173.0,193.4 1176.0,193.8 1179.0,194.2 1182.0,194.7 1185.0,195.2 1188.0,195.7 1191.0,196.2 1194.0,196.8 1197.0,197.3 1200.0,198.0 1203.0,198.6 1206.0,199.2 1209.0,199.9 1212.0,200.6 1215.0,201.3 1218.0,202.0 1221.0,202.8 1224.0,203.5 1227.0,204.2 1230.0,205.0 1233.0,205.7 1236.0,206.4 1239.0,207.1 1242.0,207.9 1245.0,208.6 1248.0,209.2 1251.0,210.0 1254.0,210.7 1257.0,211.5 1260.0,212.3 1263.0,213.2 1266.0,214.0 1269.0,214.9 1272.0,215.9 1275.0,216.8 1278.0,217.8 1281.0,218.8 1284.0,219.7 1287.0,220.7 1290.0,221.6 1293.0,222.6 1296.0,223.6 1299.0,224.5 1302.0,225.5 1305.0,226.4 1308.0,227.3 1311.0,228.2 1314.0,229.1 1317.0,230.0 1320.0,230.8 1323.0,231.7 1326.0,232.5 1329.0,233.3 1332.0,234.1 1335.0,234.8 1338.0,235.5 1341.0,236.3 1344.0,236.9 1347.0,237.6 1350.0,238.3 1353.0,238.9 1356.0,239.5 1359.0,240.1 1362.0,240.7 1365.0,241.3 1368.0,241.8 1371.0,242.4 1374.0,242.9 1377.0,243.5 1380.0,244.0 1383.0,244.6 1386.0,245.2 1389.0,245.8 1392.0,246.3 1395.0,246.9 1398.0,247.5 1401.0,248.1 1404.0,248.7 1407.0,249.3 1410.0,249.9 1413.0,250.5 1416.0,251.1 1419.0,251.7 1422.0,252.2 1425.0,252.7 1428.0,253.1 1431.0,253.6 1431.8,254.1" fill="none" stroke="#ff10ff" stroke-width="1.25" stroke-linejoin="round" />
<polyline points="0.0,110.9 3.0,110.7 6.0,110.5 9.0,110.2 12.0,110.0 15.0,109.8 18.0,109.6 21.0,109.4 24.0,109.2 27.0,109.0 30.0,108.8 33.0,108.6 36.0,108.5 39.0,108.4 42.0,108.3 45.0,108.2 48.0,108.2 51.0,108.2 54.0,108.2 57.0,108.2 60.0,108.2 63.0,108.2 66.0,108.2 69.0,108.2 72.0,108.3 75.0,108.3 78.0,108.4 81.0,108.5 84.0,108.5 87.0,108.6 90.0,108.8 93.0,108.9 96.0,109.0 99.0,109.1 102.0,109.3 105.0,109.6 108.0,109.9 111.0,110.3 114.0,110.7 117.0,111.2 120.0,111.7 123.0,112.3 126.0,113.0 129.0,113.6 132.0,114.3 135.0,114.9 138.0,115.6 141.0,116.3 144.0,117.1 147.0,117.8 150.0,118.5 153.0,119.3 156.0,120.0 159.0,120.8 162.0,121.5 165.0,122.3 168.0,123.0 171.0,123.7 174.0,124.4 177.0,125.0 180.0,125.6 183.0,126.2 186.0,126.8 189.0,127.3 192.0,127.7 195.0,128.1 198.0,128.5 201.0,128.9 204.0,129.2 207.0,129.4 210.0,129.7 213.0,129.9 216.0,130.1 219.0,130.2 222.0,130.4 225.0,130.5 228.0,130.6 231.0,130.7 234.0,130.8 237.0,131.0 240.0,131.1 243.0,131.2 246.0,131.3 249.0,131.4 252.0,131.4 255.0,131.5 258.0,131.5 261.0,131.5 264.0,131.5 267.0,131.5 270.0,131.5 273.0,131.4 276.0,131.4 279.0,131.4 282.0,131.3 285.0,131.3 288.0,131.2 291.0,131.2 294.0,131.1 297.0,131.0 300.0,131.0 303.0,130.9 306.0,130.8 309.0,130.8 312.0,130.7 315.0,130.6 318.0,130.5 321.0,130.3 324.0,130.2 327.0,130.1 330.0,130.1 333.0,130.1 336.0,130.1 339.0,130.2 342.0,130.3 345.0,130.5 348.0,130.7 351.0,131.0 354.0,131.2 357.0,131.4 360.0,131.6 363.0,131.7 366.0,131.9 369.0,132.0 372.0,132.1 375.0,132.2 378.0,132.2 381.0,132.3 384.0,132.3 387.0,132.3 390.0,132.3 393.0,132.2 396.0,132.1 399.0,132.1 402.0,132.0 405.0,131.8 408.0,131.7 411.0,131.7 414.0,131.6 417.0,131.5 420.0,131.5 423.0,131.5 426.0,131.5 429.0,131.6 432.0,131.7 435.0,131.7 438.0,131.8 441.0,131.9 444.0,132.0 447.0,132.0 450.0,132.0 453.0,132.0 456.0,131.9 459.0,131.9 462.0,131.8 465.0,131.7 468.0,131.6 471.0,131.5 474.0,131.4 477.0,131.3 480.0,131.2 483.0,131.1 486.0,131.0 489.0,130.9 492.0,130.8 495.0,130.7 498.0,130.6 501.0,130.5 504.0,130.4 507.0,130.3 510.0,130.3 513.0,130.2 516.0,130.1 519.0,130.0 522.0,130.0 525.0,129.9 528.0,129.9 531.0,129.9 534.0,129.8 537.0,129.8 540.0,129.7 543.0,129.7 546.0,129.6 549.0,129.4 552.0,129.3 555.0,129.0 558.0,128.8 561.0,128.5 564.0,128.1 567.0,127.7 570.0,127.3 573.0,126.9 576.0,126.5 579.0,126.2 582.0,125.8 585.0,125.4 588.0,125.0 591.0,124.7 594.0,124.4 597.0,124.1 600.0,123.8 603.0,123.6 606.0,123.4 609.0,123.2 612.0,123.1 615.0,123.0 618.0,122.9 621.0,122.8 624.0,122.7 627.0,122.6 630.0,122.6 633.0,122.6 636.0,122.6 639.0,122.6 642.0,122.7 645.0,122.8 648.0,122.9 651.0,123.1 654.0,123.3 657.0,123.5 660.0,123.8 663.0,124.1 666.0,124.4 669.0,124.7 672.0,125.0 675.0,125.3 678.0,125.7 681.0,126.0 684.0,126.4 687.0,126.8 690.0,127.2 693.0,127.6 696.0,128.1 699.0,128.5 702.0,129.0 705.0,129.5 708.0,130.1 711.0,130.6 714.0,131.2 717.0,131.8 720.0,132.4 723.0,133.1 726.0,133.7 729.0,134.4 732.0,135.1 735.0,135.7 738.0,136.4 741.0,137.0 744.0,137.7 747.0,138.3 750.0,138.9 753.0,139.5 756.0,140.1 759.0,140.7 762.0,141.3 765.0,141.9 768.0,142.5 771.0,143.1 774.0,143.7 777.0,144.3 780.0,145.0 783.0,145.6 786.0,146.4 789.0,147.2 792.0,148.0 795.0,148.8 798.0,149.8 801.0,150.7 804.0,151.7 807.0,152.8 810.0,153.9 813.0,155.1 816.0,156.3 819.0,157.5 822.0,158.8 825.0,160.1 828.0,161.5 831.0,162.8 834.0,164.1 837.0,165.4 840.0,166.6 843.0,167.8 846.0,168.9 849.0,170.0 852.0,171.1 855.0,172.1 858.0,173.1 861.0,174.1 864.0,175.1 867.0,176.1 870.0,177.1 873.0,178.1 876.0,179.1 879.0,180.1 882.0,181.1 885.0,182.0 888.0,183.0 891.0,183.9 894.0,184.9 897.0,185.8 900.0,186.7 903.0,187.6 906.0,188.5 909.0,189.4 912.0,190.3 915.0,191.1 918.0,192.0 921.0,192.8 924.0,193.6 927.0,194.4 930.0,195.2 933.0,196.0 936.0,196.8 939.0,197.6 942.0,198.4 945.0,199.2 948.0,200.0 951.0,200.8 954.0,201.6 957.0,202.4 960.0,203.1 963.0,203.9 966.0,204.7 969.0,205.5 972.0,206.3 975.0,207.1 978.0,207.9 981.0,208.7 984.0,209.5 987.0,210.2 990.0,210.9 993.0,211.6 996.0,212.3 999.0,212.9 1002.0,213.5 1005.0,214.1 1008.0,214.8 1011.0,215.5 1014.0,216.2 1017.0,216.9 1020.0,217.7 1023.0,218.5 1026.0,219.3 1029.0,220.1 1032.0,220.9 1035.0,221.8 1038.0,222.6 1041.0,223.4 1044.0,224.3 1047.0,225.1 1050.0,225.9 1053.0,226.8 1056.0,227.6 1059.0,228.5 1062.0,229.4 1065.0,230.3 1068.0,231.3 1071.0,232.2 1074.0,233.2 1077.0,234.2 1080.0,235.2 1083.0,236.3 1086.0,237.3 1089.0,238.4 1092.0,239.4 1095.0,240.5 1098.0,241.7 1101.0,242.7 1104.0,243.8 1107.0,244.9 1110.0,245.9 1113.0,246.9 1116.0,247.9 1119.0,248.8 1122.0,249.7 1125.0,250.6 1128.0,251.5 1131.0,252.3 1134.0,253.0 1137.0,253.8 1140.0,254.5 1143.0,255.2 1146.0,255.8 1149.0,256.4 1152.0,257.0 1155.0,257.6 1158.0,258.2 1161.0,258.8 1164.0,259.4 1167.0,260.0 1170.0,260.6 1173.0,261.2 1176.0,261.8 1179.0,262.4 1182.0,263.1 1185.0,263.7 1188.0,264.4 1191.0,265.1 1194.0,265.8 1197.0,266.6 1200.0,267.4 1203.0,268.1 1206.0,268.9 1209.0,269.8 1212.0,270.6 1215.0,271.4 1218.0,272.3 1221.0,273.2 1224.0,274.1 1227.0,275.0 1230.0,275.9 1233.0,276.8 1236.0,277.7 1239.0,278.6 1242.0,279.5 1245.0,280.4 1248.0,281.3 1251.0,282.2 1254.0,283.2 1257.0,284.1 1260.0,285.1 1263.0,286.1 1266.0,287.1 1269.0,288.1 1272.0,289.1 1275.0,290.2 1278.0,291.2 1281.0,292.2 1284.0,293.2 1287.0,294.2 1290.0,295.3 1293.0,296.3 1296.0,297.3 1299.0,298.2 1302.0,299.1 1305.0,299.9 1308.0,300.6 1311.0,301.3 1314.0,301.9 1317.0,302.5 1320.0,302.9 1323.0,303.3 1326.0,303.7 1329.0,304.0 1332.0,304.4 1335.0,304.7 1338.0,305.0 1341.0,305.3 1344.0,305.6 1347.0,306.0 1350.0,306.3 1353.0,306.6 1356.0,306.9 1359.0,307.2 1362.0,307.5 1365.0,307.8 1368.0,308.1 1371.0,308.4 1374.0,308.7 1377.0,308.9 1380.0,309.2 1383.0,309.5 1386.0,309.8 1389.0,310.0 1392.0,310.3 1395.0,310.5 1398.0,310.8 1401.0,311.0 1404.0,311.2 1407.0,311.5 1410.0,311.7 1413.0,311.8 1416.0,312.0 1419.0,312.2 1422.0,312.4 1425.0,312.5 1428.0,312.6 1431.0,312.8 1431.8,312.9" fill="none" stroke="#1f5fbf" stroke-width="1.05" stroke-linejoin="round" />
<polyline points="0.0,94.0 3.0,95.1 6.0,96.3 9.0,97.4 12.0,98.5 15.0,99.7 18.0,100.8 21.0,101.9 24.0,103.1 27.0,104.2 30.0,105.4 33.0,106.6 36.0,108.0 39.0,109.3 42.0,110.8 45.0,112.3 48.0,113.9 51.0,115.5 54.0,117.1 57.0,118.8 60.0,120.4 63.0,122.0 66.0,123.6 69.0,125.2 72.0,126.8 75.0,128.4 78.0,129.9 81.0,131.4 84.0,132.9 87.0,134.4 90.0,135.9 93.0,137.3 96.0,138.8 99.0,140.2 102.0,141.7 105.0,143.2 108.0,144.7 111.0,146.2 114.0,147.8 117.0,149.3 120.0,150.8 123.0,152.4 126.0,153.9 129.0,155.4 132.0,156.9 135.0,158.3 138.0,159.6 141.0,160.9 144.0,162.0 147.0,163.0 150.0,164.0 153.0,164.8 156.0,165.5 159.0,166.2 162.0,166.9 165.0,167.5 168.0,168.1 171.0,168.6 174.0,169.1 177.0,169.6 180.0,170.1 183.0,170.6 186.0,171.1 189.0,171.5 192.0,171.9 195.0,172.4 198.0,172.8 201.0,173.2 204.0,173.5 207.0,173.8 210.0,174.1 213.0,174.3 216.0,174.4 219.0,174.3 222.0,174.1 225.0,173.7 228.0,173.2 231.0,172.6 234.0,171.9 237.0,171.3 240.0,170.6 243.0,169.9 246.0,169.3 249.0,168.8 252.0,168.3 255.0,167.7 258.0,167.0 261.0,166.2 264.0,165.2 267.0,164.2 270.0,163.0 273.0,161.6 276.0,160.2 279.0,158.8 282.0,157.4 285.0,156.0 288.0,154.5 291.0,153.0 294.0,151.4 297.0,149.8 300.0,148.1 303.0,146.3 306.0,144.5 309.0,142.6 312.0,140.7 315.0,138.7 318.0,136.7 321.0,134.8 324.0,132.7 327.0,130.8 330.0,128.9 333.0,127.2 336.0,125.6 339.0,124.2 342.0,122.9 345.0,121.8 348.0,120.7 351.0,119.7 354.0,118.6 357.0,117.6 360.0,116.5 363.0,115.4 366.0,114.2 369.0,113.0 372.0,111.7 375.0,110.3 378.0,108.9 381.0,107.5 384.0,106.1 387.0,104.7 390.0,103.4 393.0,102.1 396.0,100.9 399.0,99.8 402.0,98.8 405.0,97.9 408.0,97.0 411.0,96.3 414.0,95.6 417.0,95.0 420.0,94.4 423.0,93.9 426.0,93.5 429.0,93.0 432.0,92.7 435.0,92.3 438.0,92.0 441.0,91.7 444.0,91.5 447.0,91.2 450.0,91.0 453.0,90.8 456.0,90.5 459.0,90.2 462.0,90.0 465.0,89.7 468.0,89.5 471.0,89.3 474.0,89.1 477.0,89.0 480.0,89.0 483.0,89.2 486.0,89.4 489.0,89.7 492.0,90.2 495.0,90.8 498.0,91.4 501.0,92.1 504.0,92.8 507.0,93.5 510.0,94.2 513.0,95.0 516.0,95.9 519.0,96.9 522.0,97.9 525.0,99.0 528.0,100.1 531.0,101.3 534.0,102.5 537.0,103.7 540.0,104.9 543.0,106.0 546.0,107.3 549.0,108.5 552.0,109.8 555.0,111.2 558.0,112.6 561.0,114.0 564.0,115.4 567.0,116.8 570.0,118.2 573.0,119.6 576.0,120.9 579.0,122.1 582.0,123.2 585.0,124.2 588.0,125.1 591.0,125.9 594.0,126.7 597.0,127.4 600.0,128.0 603.0,128.7 606.0,129.3 609.0,130.0 612.0,130.7 615.0,131.5 618.0,132.4 621.0,133.4 624.0,134.5 627.0,135.7 630.0,137.0 633.0,138.3 636.0,139.6 639.0,141.1 642.0,142.5 645.0,144.0 648.0,145.4 651.0,146.9 654.0,148.3 657.0,149.7 660.0,151.0 663.0,152.3 666.0,153.6 669.0,154.9 672.0,156.2 675.0,157.4 678.0,158.6 681.0,159.8 684.0,161.0 687.0,162.2 690.0,163.3 693.0,164.5 696.0,165.7 699.0,166.9 702.0,168.1 705.0,169.2 708.0,170.4 711.0,171.6 714.0,172.8 717.0,173.9 720.0,175.1 723.0,176.2 726.0,177.3 729.0,178.3 732.0,179.3 735.0,180.3 738.0,181.2 741.0,182.0 744.0,182.8 747.0,183.5 750.0,184.2 753.0,184.8 756.0,185.4 759.0,186.0 762.0,186.6 765.0,187.1 768.0,187.5 771.0,187.9 774.0,188.3 777.0,188.6 780.0,189.0 783.0,189.3 786.0,189.6 789.0,189.9 792.0,190.2 795.0,190.6 798.0,191.0 801.0,191.6 804.0,192.2 807.0,192.9 810.0,193.7 813.0,194.7 816.0,195.8 819.0,197.0 822.0,198.2 825.0,199.6 828.0,201.0 831.0,202.5 834.0,204.0 837.0,205.5 840.0,207.0 843.0,208.5 846.0,210.0 849.0,211.4 852.0,212.8 855.0,214.3 858.0,215.7 861.0,217.0 864.0,218.3 867.0,219.5 870.0,220.6 873.0,221.6 876.0,222.5 879.0,223.2 882.0,223.9 885.0,224.5 888.0,225.0 891.0,225.5 894.0,225.9 897.0,226.3 900.0,226.6 903.0,227.0 906.0,227.3 909.0,227.6 912.0,227.9 915.0,228.3 918.0,228.7 921.0,229.0 924.0,229.4 927.0,229.9 930.0,230.3 933.0,230.7 936.0,231.2 939.0,231.6 942.0,232.0 945.0,232.4 948.0,232.8 951.0,233.2 954.0,233.6 957.0,234.1 960.0,234.6 963.0,235.2 966.0,235.8 969.0,236.4 972.0,237.1 975.0,237.9 978.0,238.6 981.0,239.3 984.0,240.0 987.0,240.8 990.0,241.4 993.0,242.0 996.0,242.6 999.0,243.2 1002.0,243.7 1005.0,244.3 1008.0,245.1 1011.0,246.0 1014.0,247.1 1017.0,248.4 1020.0,249.8 1023.0,251.4 1026.0,253.0 1029.0,254.5 1032.0,255.9 1035.0,257.3 1038.0,258.5 1041.0,259.6 1044.0,260.6 1047.0,261.6 1050.0,262.6 1053.0,263.6 1056.0,264.4 1059.0,265.1 1062.0,265.7 1065.0,266.2 1068.0,266.6 1071.0,266.9 1074.0,267.1 1077.0,267.5 1080.0,267.9 1083.0,268.3 1086.0,268.9 1089.0,269.5 1092.0,270.3 1095.0,271.1 1098.0,271.9 1101.0,272.7 1104.0,273.6 1107.0,274.5 1110.0,275.4 1113.0,276.4 1116.0,277.4 1119.0,278.4 1122.0,279.4 1125.0,280.5 1128.0,281.5 1131.0,282.6 1134.0,283.6 1137.0,284.6 1140.0,285.6 1143.0,286.4 1146.0,287.3 1149.0,288.0 1152.0,288.7 1155.0,289.3 1158.0,290.0 1161.0,290.6 1164.0,291.2 1167.0,291.8 1170.0,292.4 1173.0,293.0 1176.0,293.6 1179.0,294.2 1182.0,294.8 1185.0,295.4 1188.0,296.0 1191.0,296.7 1194.0,297.5 1197.0,298.4 1200.0,299.4 1203.0,300.5 1206.0,301.7 1209.0,303.0 1212.0,304.4 1215.0,305.7 1218.0,307.1 1221.0,308.4 1224.0,309.8 1227.0,311.1 1230.0,312.4 1233.0,313.7 1236.0,314.9 1239.0,316.2 1242.0,317.4 1245.0,318.5 1248.0,319.6 1251.0,320.7 1254.0,321.8 1257.0,322.8 1260.0,323.8 1263.0,324.7 1266.0,325.5 1269.0,326.3 1272.0,327.1 1275.0,327.8 1278.0,328.4 1281.0,329.1 1284.0,329.8 1287.0,330.6 1290.0,331.4 1293.0,332.3 1296.0,333.3 1299.0,334.2 1302.0,335.0 1305.0,335.9 1308.0,336.6 1311.0,337.3 1314.0,337.9 1317.0,338.4 1320.0,338.8 1323.0,339.2 1326.0,339.5 1329.0,339.7 1332.0,339.8 1335.0,339.9 1338.0,339.9 1341.0,339.9 1344.0,339.8 1347.0,339.7 1350.0,339.6 1353.0,339.3 1356.0,339.0 1359.0,338.6 1362.0,338.2 1365.0,337.7 1368.0,337.2 1371.0,336.8 1374.0,336.3 1377.0,335.9 1380.0,335.6 1383.0,335.3 1386.0,335.0 1389.0,334.7 1392.0,334.5 1395.0,334.2 1398.0,334.0 1401.0,333.8 1404.0,333.6 1407.0,333.4 1410.0,333.3 1413.0,333.1 1416.0,332.9 1419.0,332.7 1422.0,332.5 1425.0,332.3 1428.0,332.2 1431.0,332.0 1431.6,331.8" fill="none" stroke="#ff1a1a" stroke-width="1.05" stroke-linejoin="round" />
<g shape-rendering="crispEdges">
<rect x="0" y="257" width="1460" height="2" fill="#ff0000"/>
<rect x="0" y="326" width="1460" height="2" fill="#008000"/>
</g>
<rect x="0" y="302" width="1460" height="1" fill="#2e4a75" shape-rendering="crispEdges"/>
<g shape-rendering="crispEdges">
<line x1="1" x2="1460" y1="445.5" y2="445.5" stroke="#e4e4e4"/>
<rect x="0" y="407" width="1432" height="23" fill="#bbbbbb"/><rect x="221" y="407" width="1" height="23" fill="#aaa"/><line x1="0" x2="1432" y1="429.5" y2="429.5" stroke="#555"/><line x1="0" x2="1432" y1="429.5" y2="429.5" stroke="#111" stroke-dasharray="5 1"/><rect x="0" y="407" width="1" height="23" fill="#000"/><rect x="1431" y="407" width="1" height="23" fill="#000"/>
<rect x="0" y="460" width="1432" height="25" fill="#bbbbbb"/><rect x="221" y="460" width="1" height="25" fill="#aaa"/><line x1="0" x2="1432" y1="460.5" y2="460.5" stroke="#555"/><line x1="0" x2="1432" y1="460.5" y2="460.5" stroke="#111" stroke-dasharray="5 1"/><rect x="0" y="460" width="1" height="25" fill="#000"/><rect x="1431" y="460" width="1" height="25" fill="#000"/>
</g>
<polyline points="0.0,458.8 5.0,456.3 10.0,452.0 15.0,456.5 20.0,452.5 25.0,455.5 31.3,451.5 36.3,451.3 45.0,455.3 50.0,454.5 55.0,457.5 60.0,457.5 70.6,460.0 80.6,450.8 85.6,449.5 95.1,451.8 100.1,452.5 110.1,455.8 115.1,449.3 120.1,451.0 125.1,448.5 135.1,457.5 140.1,458.3 150.1,450.8 155.6,442.5 160.1,438.8 165.1,441.8 170.1,440.0 180.1,440.0 185.1,437.0 190.1,435.5 200.2,434.5 206.4,430.0 211.4,428.8 220.2,428.3 226.4,425.8 232.7,424.5 237.7,423.3 241.4,423.3 246.4,429.5 251.4,433.3 256.4,431.8 261.4,427.5 266.4,425.8 271.5,423.0 276.5,424.3 281.5,422.5 290.2,422.5 296.5,421.8 301.5,425.0 306.5,420.8 311.5,427.5 316.5,423.8 325.2,428.3 330.2,431.3 336.5,433.8 341.5,445.8 346.5,449.3 351.5,449.3 356.5,453.8 361.5,457.0 366.5,454.5 371.5,450.0 376.5,448.8 383.0,442.5 386.8,442.0 391.8,445.0 396.8,444.5 401.8,447.5 406.8,452.5 411.8,449.3 416.8,449.5 421.8,448.3 426.8,453.0 431.8,454.3 436.8,454.8 441.8,454.8 446.8,454.0 451.8,448.0 456.8,447.0 461.8,450.5 468.1,443.8 472.6,441.8 477.6,443.0 482.3,441.5 487.3,448.8 492.3,455.0 497.3,454.5 502.3,456.8 507.3,448.8 512.3,453.5 517.4,452.8 522.4,448.5 527.4,453.0 532.4,453.8 537.4,452.5 542.4,452.3 547.4,451.5 552.4,448.3 557.4,450.8 562.4,452.0 567.4,449.0 572.4,443.3 577.4,444.0 582.4,443.8 587.4,442.8 592.4,441.3 597.4,443.0 602.4,441.3 607.4,447.5 612.4,452.5 617.4,456.8 622.4,457.0 627.4,459.5 632.4,460.0 637.4,456.5 642.4,459.5 647.4,462.0 652.5,461.3 657.5,456.3 662.5,455.3 667.5,456.5 672.5,460.8 677.5,460.8 682.5,451.5 687.5,450.3 692.5,451.5 697.5,455.5 702.5,450.5 707.5,451.3 712.5,451.3 718.3,443.5 723.3,444.5 728.3,446.0 733.3,444.5 738.3,447.0 743.3,447.5 748.3,451.3 753.3,444.3 758.3,444.5 762.5,444.3 766.0,440.0 769.0,437.0 773.5,440.5 778.5,436.5 784.0,441.3 789.0,443.5 793.5,442.5 799.0,446.3 803.5,445.5 809.0,453.8 814.0,456.0 818.5,457.3 824.0,459.5 829.0,460.0 833.1,459.3 839.1,451.3 844.1,453.3 849.1,454.8 854.1,458.3 859.1,457.0 864.1,451.3 869.1,455.0 874.1,450.8 879.1,451.0 884.1,450.8 889.1,446.8 894.1,443.5 899.1,444.0 904.1,451.3 909.1,447.5 914.1,446.3 919.1,446.8 924.1,449.0 929.1,448.3 934.1,451.5 939.1,446.0 944.1,448.5 949.1,445.0 954.1,442.3 959.1,448.5 964.1,446.5 969.2,445.8 974.2,444.3 979.2,446.5 984.2,450.0 989.2,445.8 994.2,447.3 999.2,444.0 1004.2,443.5 1009.2,448.3 1014.2,453.3 1019.2,455.3 1024.2,457.0 1029.2,457.5 1034.2,455.3 1039.2,449.5 1044.2,447.3 1050.0,444.5 1055.0,446.3 1060.0,453.3 1065.0,447.0 1070.0,444.8 1075.0,445.8 1080.0,447.8 1085.0,451.0 1090.0,455.3 1095.0,453.3 1100.0,455.5 1105.0,454.0 1110.0,453.3 1115.5,458.5 1120.5,457.5 1125.5,456.8 1130.5,452.0 1135.5,449.5 1140.5,452.5 1145.5,450.0 1148.0,447.5 1154.3,443.0 1160.5,440.3 1165.5,440.5 1170.5,444.3 1175.5,444.3 1180.5,443.5 1185.5,448.3 1190.5,446.8 1195.5,446.5 1200.5,450.0 1206.0,456.8 1210.5,458.3 1215.6,459.8 1220.6,456.5 1225.6,453.3 1230.6,456.5 1235.6,449.5 1240.6,450.0 1245.6,448.3 1250.6,447.0 1255.6,450.0 1260.6,451.0 1265.6,449.0 1271.1,452.3 1276.1,451.8 1281.1,453.8 1286.1,451.0 1291.1,449.5 1296.1,453.3 1301.1,447.0 1306.1,449.5 1311.1,438.3 1316.1,439.3 1321.1,438.0 1326.1,437.0 1331.4,433.3 1336.4,435.8 1341.4,438.8 1346.4,443.5 1351.4,441.0 1356.4,438.8 1361.4,435.8 1366.4,432.5 1371.4,437.0 1376.4,443.5 1381.9,440.0 1386.9,441.3 1391.9,443.0 1396.9,443.3 1401.9,443.3 1406.9,436.8 1411.9,436.5 1417.0,437.5 1422.0,434.3 1427.0,436.3 1431.5,442.5" fill="none" stroke="#2b4bff" stroke-width="1.1" stroke-linejoin="round" />
<polyline points="0.0,542.0 5.0,543.3 15.0,542.5 25.0,542.5 37.5,541.3 50.0,542.0 62.5,543.8 71.3,544.5 80.1,542.5 90.1,540.0 100.1,538.8 110.1,538.0 120.1,536.3 127.6,535.5 135.1,537.0 142.6,537.5 150.1,537.0 160.1,532.5 170.1,528.0 180.1,525.0 190.1,522.0 200.2,518.8 210.2,514.5 220.2,511.3 230.2,508.8 240.2,506.3 247.7,505.5 255.2,507.0 262.7,506.3 270.2,503.8 280.2,501.3 290.2,499.5 300.2,498.8 310.2,497.5 320.2,495.5 327.7,496.3 335.3,498.8 340.0,501.3 350.0,511.3 365.0,525.0 385.0,527.5 407.6,528.8 415.1,530.0 422.6,530.5 432.6,533.8 440.1,535.8 447.6,536.8 455.1,535.0 462.6,534.5 470.1,531.3 476.4,529.5 482.6,528.0 487.6,529.3 495.1,532.5 502.6,535.5 510.1,535.0 517.6,537.5 525.1,537.0 532.6,538.8 540.2,539.3 547.7,539.3 555.2,537.5 565.2,537.0 572.7,533.8 580.2,531.3 587.7,529.5 595.2,527.5 602.7,526.3 609.0,527.0 615.2,530.0 625.2,535.0 635.2,538.8 642.7,540.8 652.7,545.0 660.2,545.5 667.7,545.0 677.8,547.0 685.3,544.5 692.8,542.5 699.0,542.5 700.0,542.0 710.0,540.0 720.0,535.5 730.0,532.5 740.0,530.8 747.5,531.3 755.0,529.5 762.5,528.0 770.1,525.0 780.1,522.5 790.1,521.5 800.1,522.0 805.1,523.8 812.6,528.8 820.1,533.8 827.6,538.0 833.9,540.0 840.1,539.5 847.6,540.5 857.6,543.0 865.1,542.0 872.6,542.5 880.1,540.8 887.6,539.5 895.1,535.5 900.2,533.8 905.2,534.5 915.2,533.0 925.2,532.0 935.2,532.5 945.2,531.3 952.7,528.8 960.2,529.5 970.2,528.0 980.2,528.0 987.7,528.8 995.2,528.8 1004.0,527.0 1010.2,528.0 1017.7,532.5 1025.2,535.8 1032.7,538.0 1040.3,537.5 1047.8,534.5 1054.0,533.0 1059.0,534.3 1060.0,533.8 1067.5,532.0 1075.0,530.8 1082.5,531.3 1090.0,535.0 1100.0,538.8 1110.0,539.5 1117.5,543.0 1125.0,544.5 1132.6,543.0 1140.1,542.0 1147.6,539.5 1155.1,535.0 1162.6,530.8 1170.1,528.8 1180.1,527.0 1190.1,528.0 1197.6,528.0 1205.1,531.3 1215.1,537.0 1222.6,538.8 1230.1,540.0 1240.1,538.3 1250.1,536.3 1260.2,535.5 1270.2,535.0 1280.2,535.8 1290.2,535.0 1297.7,534.5 1306.4,533.8 1312.7,530.0 1320.2,525.5 1327.7,520.0 1335.2,517.0 1342.7,517.0 1350.2,517.5 1357.7,516.3 1365.2,513.0 1370.2,512.0 1377.7,513.8 1385.2,514.5 1392.7,516.3 1400.3,517.0 1407.8,515.0 1415.3,514.5 1422.8,512.5 1427.8,512.5 1431.5,513.8" fill="none" stroke="#2b4bff" stroke-width="1.15" stroke-linejoin="round" />
<g shape-rendering="crispEdges">
<line x1="1" x2="1460" y1="525.5" y2="525.5" stroke="#e4e4e4"/>
<rect x="-2" y="525" width="4.5" height="4.5" fill="#ff8c00" shape-rendering="auto"/>
<rect x="3" y="525" width="4.5" height="4.2" fill="#ff8c00" shape-rendering="auto"/>
<rect x="8" y="525" width="4.5" height="3.5" fill="#ff8c00" shape-rendering="auto"/>
<rect x="13" y="525" width="4.5" height="2.7" fill="#ff8c00" shape-rendering="auto"/>
<rect x="18" y="525" width="4.5" height="2.0" fill="#ff8c00" shape-rendering="auto"/>
<rect x="23" y="525" width="4.5" height="1.4" fill="#ff8c00" shape-rendering="auto"/>
<rect x="28" y="525" width="4.5" height="0.9" fill="#ff8c00" shape-rendering="auto"/>
<rect x="33" y="525" width="4.5" height="0.8" fill="#ff8c00" shape-rendering="auto"/>
<rect x="53" y="525" width="4.5" height="0.8" fill="#ff8c00" shape-rendering="auto"/>
<rect x="58" y="525" width="4.5" height="0.9" fill="#ff8c00" shape-rendering="auto"/>
<rect x="63" y="525" width="4.5" height="1.2" fill="#ff8c00" shape-rendering="auto"/>
<rect x="68" y="525" width="4.5" height="1.3" fill="#ff8c00" shape-rendering="auto"/>
<rect x="73" y="525" width="4.5" height="0.9" fill="#ff8c00" shape-rendering="auto"/>
<rect x="83" y="524.0" width="4.5" height="1.0" fill="#0b4fae" shape-rendering="auto"/>
<rect x="88" y="523.6" width="4.5" height="1.4" fill="#0b4fae" shape-rendering="auto"/>
<rect x="93" y="523.1" width="4.5" height="1.9" fill="#0b4fae" shape-rendering="auto"/>
<rect x="98" y="523.0" width="4.5" height="2.0" fill="#0b4fae" shape-rendering="auto"/>
<rect x="103" y="523.0" width="4.5" height="2.0" fill="#0b4fae" shape-rendering="auto"/>
<rect x="108" y="523.0" width="4.5" height="2.0" fill="#0b4fae" shape-rendering="auto"/>
<rect x="113" y="522.8" width="4.5" height="2.2" fill="#0b4fae" shape-rendering="auto"/>
<rect x="119" y="522.6" width="4.5" height="2.4" fill="#0b4fae" shape-rendering="auto"/>
<rect x="124" y="522.5" width="4.5" height="2.5" fill="#0b4fae" shape-rendering="auto"/>
<rect x="129" y="523.3" width="4.5" height="1.7" fill="#0b4fae" shape-rendering="auto"/>
<rect x="134" y="524.1" width="4.5" height="0.9" fill="#0b4fae" shape-rendering="auto"/>
<rect x="144" y="525" width="4.5" height="0.5" fill="#ff8c00" shape-rendering="auto"/>
<rect x="149" y="524.3" width="4.5" height="0.7" fill="#0b4fae" shape-rendering="auto"/>
<rect x="154" y="522.8" width="4.5" height="2.2" fill="#0b4fae" shape-rendering="auto"/>
<rect x="159" y="520.9" width="4.5" height="4.1" fill="#0b4fae" shape-rendering="auto"/>
<rect x="164" y="519.9" width="4.5" height="5.1" fill="#0b4fae" shape-rendering="auto"/>
<rect x="169" y="519.1" width="4.5" height="5.9" fill="#0b4fae" shape-rendering="auto"/>
<rect x="174" y="518.8" width="4.5" height="6.2" fill="#0b4fae" shape-rendering="auto"/>
<rect x="179" y="518.7" width="4.5" height="6.3" fill="#0b4fae" shape-rendering="auto"/>
<rect x="184" y="518.5" width="4.5" height="6.5" fill="#0b4fae" shape-rendering="auto"/>
<rect x="189" y="518.5" width="4.5" height="6.5" fill="#0b4fae" shape-rendering="auto"/>
<rect x="194" y="518.3" width="4.5" height="6.7" fill="#0b4fae" shape-rendering="auto"/>
<rect x="199" y="518.2" width="4.5" height="6.8" fill="#0b4fae" shape-rendering="auto"/>
<rect x="204" y="518.0" width="4.5" height="7.0" fill="#0b4fae" shape-rendering="auto"/>
<rect x="209" y="518.0" width="4.5" height="7.0" fill="#0b4fae" shape-rendering="auto"/>
<rect x="214" y="518.0" width="4.5" height="7.0" fill="#0b4fae" shape-rendering="auto"/>
<rect x="219" y="518.0" width="4.5" height="7.0" fill="#0b4fae" shape-rendering="auto"/>
<rect x="224" y="518.4" width="4.5" height="6.6" fill="#0b4fae" shape-rendering="auto"/>
<rect x="229" y="518.7" width="4.5" height="6.3" fill="#0b4fae" shape-rendering="auto"/>
<rect x="234" y="519.2" width="4.5" height="5.8" fill="#0b4fae" shape-rendering="auto"/>
<rect x="239" y="519.5" width="4.5" height="5.5" fill="#0b4fae" shape-rendering="auto"/>
<rect x="244" y="520.6" width="4.5" height="4.4" fill="#0b4fae" shape-rendering="auto"/>
<rect x="249" y="521.8" width="4.5" height="3.2" fill="#0b4fae" shape-rendering="auto"/>
<rect x="254" y="522.9" width="4.5" height="2.1" fill="#0b4fae" shape-rendering="auto"/>
<rect x="259" y="523.4" width="4.5" height="1.6" fill="#0b4fae" shape-rendering="auto"/>
<rect x="264" y="522.6" width="4.5" height="2.4" fill="#0b4fae" shape-rendering="auto"/>
<rect x="269" y="522.1" width="4.5" height="2.9" fill="#0b4fae" shape-rendering="auto"/>
<rect x="274" y="521.5" width="4.5" height="3.5" fill="#0b4fae" shape-rendering="auto"/>
<rect x="279" y="521.3" width="4.5" height="3.7" fill="#0b4fae" shape-rendering="auto"/>
<rect x="284" y="521.2" width="4.5" height="3.8" fill="#0b4fae" shape-rendering="auto"/>
<rect x="289" y="521.7" width="4.5" height="3.3" fill="#0b4fae" shape-rendering="auto"/>
<rect x="294" y="522.0" width="4.5" height="3.0" fill="#0b4fae" shape-rendering="auto"/>
<rect x="299" y="522.5" width="4.5" height="2.5" fill="#0b4fae" shape-rendering="auto"/>
<rect x="304" y="522.0" width="4.5" height="3.0" fill="#0b4fae" shape-rendering="auto"/>
<rect x="309" y="522.5" width="4.5" height="2.5" fill="#0b4fae" shape-rendering="auto"/>
<rect x="314" y="522.0" width="4.5" height="3.0" fill="#0b4fae" shape-rendering="auto"/>
<rect x="319" y="522.2" width="4.5" height="2.8" fill="#0b4fae" shape-rendering="auto"/>
<rect x="324" y="522.7" width="4.5" height="2.3" fill="#0b4fae" shape-rendering="auto"/>
<rect x="329" y="523.7" width="4.5" height="1.3" fill="#0b4fae" shape-rendering="auto"/>
<rect x="334" y="525" width="4.5" height="1.2" fill="#ff8c00" shape-rendering="auto"/>
<rect x="339" y="525" width="4.5" height="3.7" fill="#ff8c00" shape-rendering="auto"/>
<rect x="344" y="525" width="4.5" height="6.3" fill="#ff8c00" shape-rendering="auto"/>
<rect x="350" y="525" width="4.5" height="8.8" fill="#ff8c00" shape-rendering="auto"/>
<rect x="355" y="525" width="4.5" height="11.3" fill="#ff8c00" shape-rendering="auto"/>
<rect x="360" y="525" width="4.5" height="12.5" fill="#ff8c00" shape-rendering="auto"/>
<rect x="365" y="525" width="4.5" height="13.0" fill="#ff8c00" shape-rendering="auto"/>
<rect x="370" y="525" width="4.5" height="12.0" fill="#ff8c00" shape-rendering="auto"/>
<rect x="375" y="525" width="4.5" height="9.9" fill="#ff8c00" shape-rendering="auto"/>
<rect x="380" y="525" width="4.5" height="7.0" fill="#ff8c00" shape-rendering="auto"/>
<rect x="385" y="525" width="4.5" height="5.0" fill="#ff8c00" shape-rendering="auto"/>
<rect x="390" y="525" width="4.5" height="3.5" fill="#ff8c00" shape-rendering="auto"/>
<rect x="395" y="525" width="4.5" height="2.5" fill="#ff8c00" shape-rendering="auto"/>
<rect x="400" y="525" width="4.5" height="2.1" fill="#ff8c00" shape-rendering="auto"/>
<rect x="405" y="525" width="4.5" height="3.8" fill="#ff8c00" shape-rendering="auto"/>
<rect x="410" y="525" width="4.5" height="4.0" fill="#ff8c00" shape-rendering="auto"/>
<rect x="415" y="525" width="4.5" height="3.7" fill="#ff8c00" shape-rendering="auto"/>
<rect x="420" y="525" width="4.5" height="3.5" fill="#ff8c00" shape-rendering="auto"/>
<rect x="425" y="525" width="4.5" height="3.8" fill="#ff8c00" shape-rendering="auto"/>
<rect x="430" y="525" width="4.5" height="4.5" fill="#ff8c00" shape-rendering="auto"/>
<rect x="435" y="525" width="4.5" height="5.0" fill="#ff8c00" shape-rendering="auto"/>
<rect x="440" y="525" width="4.5" height="4.5" fill="#ff8c00" shape-rendering="auto"/>
<rect x="445" y="525" width="4.5" height="3.7" fill="#ff8c00" shape-rendering="auto"/>
<rect x="450" y="525" width="4.5" height="2.4" fill="#ff8c00" shape-rendering="auto"/>
<rect x="455" y="525" width="4.5" height="1.2" fill="#ff8c00" shape-rendering="auto"/>
<rect x="460" y="525" width="4.5" height="0.4" fill="#ff8c00" shape-rendering="auto"/>
<rect x="465" y="523.9" width="4.5" height="1.1" fill="#0b4fae" shape-rendering="auto"/>
<rect x="470" y="522.9" width="4.5" height="2.1" fill="#0b4fae" shape-rendering="auto"/>
<rect x="475" y="522.0" width="4.5" height="3.0" fill="#0b4fae" shape-rendering="auto"/>
<rect x="480" y="521.6" width="4.5" height="3.4" fill="#0b4fae" shape-rendering="auto"/>
<rect x="485" y="522.7" width="4.5" height="2.3" fill="#0b4fae" shape-rendering="auto"/>
<rect x="490" y="524.7" width="4.5" height="0.3" fill="#0b4fae" shape-rendering="auto"/>
<rect x="495" y="525" width="4.5" height="1.4" fill="#ff8c00" shape-rendering="auto"/>
<rect x="500" y="525" width="4.5" height="2.4" fill="#ff8c00" shape-rendering="auto"/>
<rect x="505" y="525" width="4.5" height="2.1" fill="#ff8c00" shape-rendering="auto"/>
<rect x="510" y="525" width="4.5" height="2.5" fill="#ff8c00" shape-rendering="auto"/>
<rect x="515" y="525" width="4.5" height="2.4" fill="#ff8c00" shape-rendering="auto"/>
<rect x="520" y="525" width="4.5" height="2.0" fill="#ff8c00" shape-rendering="auto"/>
<rect x="525" y="525" width="4.5" height="2.1" fill="#ff8c00" shape-rendering="auto"/>
<rect x="530" y="525" width="4.5" height="2.4" fill="#ff8c00" shape-rendering="auto"/>
<rect x="535" y="525" width="4.5" height="1.9" fill="#ff8c00" shape-rendering="auto"/>
<rect x="540" y="525" width="4.5" height="1.4" fill="#ff8c00" shape-rendering="auto"/>
<rect x="545" y="525" width="4.5" height="0.9" fill="#ff8c00" shape-rendering="auto"/>
<rect x="555" y="524.7" width="4.5" height="0.3" fill="#0b4fae" shape-rendering="auto"/>
<rect x="565" y="523.7" width="4.5" height="1.3" fill="#0b4fae" shape-rendering="auto"/>
<rect x="570" y="522.5" width="4.5" height="2.5" fill="#0b4fae" shape-rendering="auto"/>
<rect x="575" y="521.5" width="4.5" height="3.5" fill="#0b4fae" shape-rendering="auto"/>
<rect x="581" y="520.9" width="4.5" height="4.1" fill="#0b4fae" shape-rendering="auto"/>
<rect x="586" y="520.4" width="4.5" height="4.6" fill="#0b4fae" shape-rendering="auto"/>
<rect x="591" y="520.1" width="4.5" height="4.9" fill="#0b4fae" shape-rendering="auto"/>
<rect x="596" y="520.0" width="4.5" height="5.0" fill="#0b4fae" shape-rendering="auto"/>
<rect x="601" y="520.3" width="4.5" height="4.7" fill="#0b4fae" shape-rendering="auto"/>
<rect x="606" y="521.5" width="4.5" height="3.5" fill="#0b4fae" shape-rendering="auto"/>
<rect x="611" y="523.4" width="4.5" height="1.6" fill="#0b4fae" shape-rendering="auto"/>
<rect x="616" y="525" width="4.5" height="1.1" fill="#ff8c00" shape-rendering="auto"/>
<rect x="621" y="525" width="4.5" height="3.0" fill="#ff8c00" shape-rendering="auto"/>
<rect x="626" y="525" width="4.5" height="4.2" fill="#ff8c00" shape-rendering="auto"/>
<rect x="631" y="525" width="4.5" height="4.9" fill="#ff8c00" shape-rendering="auto"/>
<rect x="636" y="525" width="4.5" height="5.4" fill="#ff8c00" shape-rendering="auto"/>
<rect x="641" y="525" width="4.5" height="5.5" fill="#ff8c00" shape-rendering="auto"/>
<rect x="646" y="525" width="4.5" height="5.5" fill="#ff8c00" shape-rendering="auto"/>
<rect x="651" y="525" width="4.5" height="5.5" fill="#ff8c00" shape-rendering="auto"/>
<rect x="656" y="525" width="4.5" height="4.8" fill="#ff8c00" shape-rendering="auto"/>
<rect x="661" y="525" width="4.5" height="3.8" fill="#ff8c00" shape-rendering="auto"/>
<rect x="666" y="525" width="4.5" height="3.1" fill="#ff8c00" shape-rendering="auto"/>
<rect x="671" y="525" width="4.5" height="3.0" fill="#ff8c00" shape-rendering="auto"/>
<rect x="676" y="525" width="4.5" height="2.6" fill="#ff8c00" shape-rendering="auto"/>
<rect x="681" y="525" width="4.5" height="1.6" fill="#ff8c00" shape-rendering="auto"/>
<rect x="691" y="524.2" width="4.5" height="0.8" fill="#0b4fae" shape-rendering="auto"/>
<rect x="696" y="524.2" width="4.5" height="0.8" fill="#0b4fae" shape-rendering="auto"/>
<rect x="701" y="524.0" width="4.5" height="1.0" fill="#0b4fae" shape-rendering="auto"/>
<rect x="706" y="523.3" width="4.5" height="1.7" fill="#0b4fae" shape-rendering="auto"/>
<rect x="711" y="522.4" width="4.5" height="2.6" fill="#0b4fae" shape-rendering="auto"/>
<rect x="716" y="521.0" width="4.5" height="4.0" fill="#0b4fae" shape-rendering="auto"/>
<rect x="721" y="520.3" width="4.5" height="4.7" fill="#0b4fae" shape-rendering="auto"/>
<rect x="726" y="520.0" width="4.5" height="5.0" fill="#0b4fae" shape-rendering="auto"/>
<rect x="731" y="520.2" width="4.5" height="4.8" fill="#0b4fae" shape-rendering="auto"/>
<rect x="736" y="520.7" width="4.5" height="4.3" fill="#0b4fae" shape-rendering="auto"/>
<rect x="741" y="521.7" width="4.5" height="3.3" fill="#0b4fae" shape-rendering="auto"/>
<rect x="746" y="522.3" width="4.5" height="2.7" fill="#0b4fae" shape-rendering="auto"/>
<rect x="751" y="521.9" width="4.5" height="3.1" fill="#0b4fae" shape-rendering="auto"/>
<rect x="756" y="521.7" width="4.5" height="3.3" fill="#0b4fae" shape-rendering="auto"/>
<rect x="761" y="521.1" width="4.5" height="3.9" fill="#0b4fae" shape-rendering="auto"/>
<rect x="766" y="520.3" width="4.5" height="4.7" fill="#0b4fae" shape-rendering="auto"/>
<rect x="771" y="519.6" width="4.5" height="5.4" fill="#0b4fae" shape-rendering="auto"/>
<rect x="776" y="519.2" width="4.5" height="5.8" fill="#0b4fae" shape-rendering="auto"/>
<rect x="781" y="519.9" width="4.5" height="5.1" fill="#0b4fae" shape-rendering="auto"/>
<rect x="786" y="520.8" width="4.5" height="4.2" fill="#0b4fae" shape-rendering="auto"/>
<rect x="791" y="521.5" width="4.5" height="3.5" fill="#0b4fae" shape-rendering="auto"/>
<rect x="796" y="522.4" width="4.5" height="2.6" fill="#0b4fae" shape-rendering="auto"/>
<rect x="801" y="524.0" width="4.5" height="1.0" fill="#0b4fae" shape-rendering="auto"/>
<rect x="806" y="525" width="4.5" height="1.7" fill="#ff8c00" shape-rendering="auto"/>
<rect x="812" y="525" width="4.5" height="3.6" fill="#ff8c00" shape-rendering="auto"/>
<rect x="817" y="525" width="4.5" height="6.0" fill="#ff8c00" shape-rendering="auto"/>
<rect x="822" y="525" width="4.5" height="7.4" fill="#ff8c00" shape-rendering="auto"/>
<rect x="827" y="525" width="4.5" height="8.0" fill="#ff8c00" shape-rendering="auto"/>
<rect x="832" y="525" width="4.5" height="7.6" fill="#ff8c00" shape-rendering="auto"/>
<rect x="837" y="525" width="4.5" height="6.4" fill="#ff8c00" shape-rendering="auto"/>
<rect x="842" y="525" width="4.5" height="5.6" fill="#ff8c00" shape-rendering="auto"/>
<rect x="847" y="525" width="4.5" height="5.0" fill="#ff8c00" shape-rendering="auto"/>
<rect x="852" y="525" width="4.5" height="4.5" fill="#ff8c00" shape-rendering="auto"/>
<rect x="857" y="525" width="4.5" height="4.5" fill="#ff8c00" shape-rendering="auto"/>
<rect x="862" y="525" width="4.5" height="3.1" fill="#ff8c00" shape-rendering="auto"/>
<rect x="867" y="525" width="4.5" height="2.5" fill="#ff8c00" shape-rendering="auto"/>
<rect x="872" y="525" width="4.5" height="1.3" fill="#ff8c00" shape-rendering="auto"/>
<rect x="877" y="525" width="4.5" height="0.6" fill="#ff8c00" shape-rendering="auto"/>
<rect x="882" y="524.3" width="4.5" height="0.7" fill="#0b4fae" shape-rendering="auto"/>
<rect x="887" y="523.1" width="4.5" height="1.9" fill="#0b4fae" shape-rendering="auto"/>
<rect x="892" y="521.6" width="4.5" height="3.4" fill="#0b4fae" shape-rendering="auto"/>
<rect x="897" y="520.5" width="4.5" height="4.5" fill="#0b4fae" shape-rendering="auto"/>
<rect x="902" y="521.9" width="4.5" height="3.1" fill="#0b4fae" shape-rendering="auto"/>
<rect x="907" y="522.5" width="4.5" height="2.5" fill="#0b4fae" shape-rendering="auto"/>
<rect x="912" y="522.5" width="4.5" height="2.5" fill="#0b4fae" shape-rendering="auto"/>
<rect x="917" y="522.5" width="4.5" height="2.5" fill="#0b4fae" shape-rendering="auto"/>
<rect x="922" y="523.0" width="4.5" height="2.0" fill="#0b4fae" shape-rendering="auto"/>
<rect x="927" y="523.5" width="4.5" height="1.5" fill="#0b4fae" shape-rendering="auto"/>
<rect x="932" y="524.2" width="4.5" height="0.8" fill="#0b4fae" shape-rendering="auto"/>
<rect x="937" y="523.8" width="4.5" height="1.2" fill="#0b4fae" shape-rendering="auto"/>
<rect x="942" y="524.2" width="4.5" height="0.8" fill="#0b4fae" shape-rendering="auto"/>
<rect x="947" y="523.5" width="4.5" height="1.5" fill="#0b4fae" shape-rendering="auto"/>
<rect x="952" y="522.5" width="4.5" height="2.5" fill="#0b4fae" shape-rendering="auto"/>
<rect x="957" y="523.5" width="4.5" height="1.5" fill="#0b4fae" shape-rendering="auto"/>
<rect x="962" y="523.7" width="4.5" height="1.3" fill="#0b4fae" shape-rendering="auto"/>
<rect x="967" y="523.7" width="4.5" height="1.3" fill="#0b4fae" shape-rendering="auto"/>
<rect x="972" y="523.5" width="4.5" height="1.5" fill="#0b4fae" shape-rendering="auto"/>
<rect x="977" y="523.8" width="4.5" height="1.2" fill="#0b4fae" shape-rendering="auto"/>
<rect x="982" y="524.5" width="4.5" height="0.5" fill="#0b4fae" shape-rendering="auto"/>
<rect x="987" y="524.5" width="4.5" height="0.5" fill="#0b4fae" shape-rendering="auto"/>
<rect x="992" y="524.5" width="4.5" height="0.5" fill="#0b4fae" shape-rendering="auto"/>
<rect x="997" y="524.2" width="4.5" height="0.8" fill="#0b4fae" shape-rendering="auto"/>
<rect x="1002" y="523.5" width="4.5" height="1.5" fill="#0b4fae" shape-rendering="auto"/>
<rect x="1007" y="524.6" width="4.5" height="0.4" fill="#0b4fae" shape-rendering="auto"/>
<rect x="1012" y="525" width="4.5" height="1.5" fill="#ff8c00" shape-rendering="auto"/>
<rect x="1017" y="525" width="4.5" height="3.0" fill="#ff8c00" shape-rendering="auto"/>
<rect x="1022" y="525" width="4.5" height="4.0" fill="#ff8c00" shape-rendering="auto"/>
<rect x="1027" y="525" width="4.5" height="5.0" fill="#ff8c00" shape-rendering="auto"/>
<rect x="1032" y="525" width="4.5" height="5.0" fill="#ff8c00" shape-rendering="auto"/>
<rect x="1037" y="525" width="4.5" height="3.9" fill="#ff8c00" shape-rendering="auto"/>
<rect x="1043" y="525" width="4.5" height="1.9" fill="#ff8c00" shape-rendering="auto"/>
<rect x="1048" y="525" width="4.5" height="0.7" fill="#ff8c00" shape-rendering="auto"/>
<rect x="1053" y="524.0" width="4.5" height="1.0" fill="#0b4fae" shape-rendering="auto"/>
<rect x="1058" y="524.1" width="4.5" height="0.9" fill="#0b4fae" shape-rendering="auto"/>
<rect x="1063" y="524.2" width="4.5" height="0.8" fill="#0b4fae" shape-rendering="auto"/>
<rect x="1068" y="523.8" width="4.5" height="1.2" fill="#0b4fae" shape-rendering="auto"/>
<rect x="1073" y="523.5" width="4.5" height="1.5" fill="#0b4fae" shape-rendering="auto"/>
<rect x="1078" y="523.8" width="4.5" height="1.2" fill="#0b4fae" shape-rendering="auto"/>
<rect x="1088" y="525" width="4.5" height="1.1" fill="#ff8c00" shape-rendering="auto"/>
<rect x="1093" y="525" width="4.5" height="2.1" fill="#ff8c00" shape-rendering="auto"/>
<rect x="1098" y="525" width="4.5" height="3.0" fill="#ff8c00" shape-rendering="auto"/>
<rect x="1103" y="525" width="4.5" height="3.3" fill="#ff8c00" shape-rendering="auto"/>
<rect x="1108" y="525" width="4.5" height="3.7" fill="#ff8c00" shape-rendering="auto"/>
<rect x="1113" y="525" width="4.5" height="4.6" fill="#ff8c00" shape-rendering="auto"/>
<rect x="1118" y="525" width="4.5" height="4.9" fill="#ff8c00" shape-rendering="auto"/>
<rect x="1123" y="525" width="4.5" height="4.3" fill="#ff8c00" shape-rendering="auto"/>
<rect x="1128" y="525" width="4.5" height="2.8" fill="#ff8c00" shape-rendering="auto"/>
<rect x="1133" y="525" width="4.5" height="1.4" fill="#ff8c00" shape-rendering="auto"/>
<rect x="1138" y="525" width="4.5" height="0.6" fill="#ff8c00" shape-rendering="auto"/>
<rect x="1143" y="524.6" width="4.5" height="0.4" fill="#0b4fae" shape-rendering="auto"/>
<rect x="1148" y="523.3" width="4.5" height="1.7" fill="#0b4fae" shape-rendering="auto"/>
<rect x="1153" y="521.2" width="4.5" height="3.8" fill="#0b4fae" shape-rendering="auto"/>
<rect x="1158" y="519.8" width="4.5" height="5.2" fill="#0b4fae" shape-rendering="auto"/>
<rect x="1163" y="518.7" width="4.5" height="6.3" fill="#0b4fae" shape-rendering="auto"/>
<rect x="1168" y="518.9" width="4.5" height="6.1" fill="#0b4fae" shape-rendering="auto"/>
<rect x="1173" y="519.6" width="4.5" height="5.4" fill="#0b4fae" shape-rendering="auto"/>
<rect x="1178" y="520.2" width="4.5" height="4.8" fill="#0b4fae" shape-rendering="auto"/>
<rect x="1183" y="521.2" width="4.5" height="3.8" fill="#0b4fae" shape-rendering="auto"/>
<rect x="1188" y="522.2" width="4.5" height="2.8" fill="#0b4fae" shape-rendering="auto"/>
<rect x="1193" y="523.2" width="4.5" height="1.8" fill="#0b4fae" shape-rendering="auto"/>
<rect x="1198" y="524.1" width="4.5" height="0.9" fill="#0b4fae" shape-rendering="auto"/>
<rect x="1203" y="525" width="4.5" height="1.0" fill="#ff8c00" shape-rendering="auto"/>
<rect x="1208" y="525" width="4.5" height="2.6" fill="#ff8c00" shape-rendering="auto"/>
<rect x="1213" y="525" width="4.5" height="4.1" fill="#ff8c00" shape-rendering="auto"/>
<rect x="1218" y="525" width="4.5" height="4.5" fill="#ff8c00" shape-rendering="auto"/>
<rect x="1223" y="525" width="4.5" height="4.1" fill="#ff8c00" shape-rendering="auto"/>
<rect x="1228" y="525" width="4.5" height="3.8" fill="#ff8c00" shape-rendering="auto"/>
<rect x="1233" y="525" width="4.5" height="2.8" fill="#ff8c00" shape-rendering="auto"/>
<rect x="1238" y="525" width="4.5" height="1.6" fill="#ff8c00" shape-rendering="auto"/>
<rect x="1243" y="525" width="4.5" height="0.7" fill="#ff8c00" shape-rendering="auto"/>
<rect x="1253" y="524.5" width="4.5" height="0.5" fill="#0b4fae" shape-rendering="auto"/>
<rect x="1258" y="524.5" width="4.5" height="0.5" fill="#0b4fae" shape-rendering="auto"/>
<rect x="1263" y="524.5" width="4.5" height="0.5" fill="#0b4fae" shape-rendering="auto"/>
<rect x="1268" y="524.5" width="4.5" height="0.5" fill="#0b4fae" shape-rendering="auto"/>
<rect x="1274" y="524.5" width="4.5" height="0.5" fill="#0b4fae" shape-rendering="auto"/>
<rect x="1279" y="524.5" width="4.5" height="0.5" fill="#0b4fae" shape-rendering="auto"/>
<rect x="1299" y="524.3" width="4.5" height="0.7" fill="#0b4fae" shape-rendering="auto"/>
<rect x="1304" y="524.2" width="4.5" height="0.8" fill="#0b4fae" shape-rendering="auto"/>
<rect x="1309" y="522.5" width="4.5" height="2.5" fill="#0b4fae" shape-rendering="auto"/>
<rect x="1314" y="520.8" width="4.5" height="4.2" fill="#0b4fae" shape-rendering="auto"/>
<rect x="1319" y="519.7" width="4.5" height="5.3" fill="#0b4fae" shape-rendering="auto"/>
<rect x="1324" y="518.7" width="4.5" height="6.3" fill="#0b4fae" shape-rendering="auto"/>
<rect x="1329" y="517.7" width="4.5" height="7.3" fill="#0b4fae" shape-rendering="auto"/>
<rect x="1334" y="517.5" width="4.5" height="7.5" fill="#0b4fae" shape-rendering="auto"/>
<rect x="1339" y="518.5" width="4.5" height="6.5" fill="#0b4fae" shape-rendering="auto"/>
<rect x="1344" y="520.2" width="4.5" height="4.8" fill="#0b4fae" shape-rendering="auto"/>
<rect x="1349" y="521.3" width="4.5" height="3.7" fill="#0b4fae" shape-rendering="auto"/>
<rect x="1354" y="521.5" width="4.5" height="3.5" fill="#0b4fae" shape-rendering="auto"/>
<rect x="1359" y="521.1" width="4.5" height="3.9" fill="#0b4fae" shape-rendering="auto"/>
<rect x="1364" y="520.6" width="4.5" height="4.4" fill="#0b4fae" shape-rendering="auto"/>
<rect x="1369" y="520.5" width="4.5" height="4.5" fill="#0b4fae" shape-rendering="auto"/>
<rect x="1374" y="522.2" width="4.5" height="2.8" fill="#0b4fae" shape-rendering="auto"/>
<rect x="1379" y="523.3" width="4.5" height="1.7" fill="#0b4fae" shape-rendering="auto"/>
<rect x="1384" y="524.1" width="4.5" height="0.9" fill="#0b4fae" shape-rendering="auto"/>
<rect x="1394" y="525" width="4.5" height="0.4" fill="#ff8c00" shape-rendering="auto"/>
<rect x="1399" y="525" width="4.5" height="0.5" fill="#ff8c00" shape-rendering="auto"/>
<rect x="1409" y="524.3" width="4.5" height="0.7" fill="#0b4fae" shape-rendering="auto"/>
<rect x="1414" y="523.8" width="4.5" height="1.2" fill="#0b4fae" shape-rendering="auto"/>
<rect x="1419" y="523.3" width="4.5" height="1.7" fill="#0b4fae" shape-rendering="auto"/>
<rect x="1424" y="523.2" width="4.5" height="1.8" fill="#0b4fae" shape-rendering="auto"/>
<rect x="1429" y="524.4" width="4.5" height="0.6" fill="#0b4fae" shape-rendering="auto"/>
</g>
<polyline points="0.0,538.0 10.0,540.0 20.0,541.3 30.0,542.0 40.0,541.3 50.0,542.0 62.5,543.0 72.6,543.3 82.6,543.0 92.6,542.0 105.1,540.5 115.1,539.5 125.1,538.0 135.1,537.5 145.1,538.0 155.1,536.3 165.1,533.8 175.1,530.5 185.1,527.5 195.1,525.0 205.2,522.0 215.2,518.8 225.2,515.5 235.2,512.5 245.2,510.0 255.2,508.8 265.2,507.5 275.2,505.5 285.2,503.8 295.2,502.0 305.2,500.5 315.2,499.3 325.2,498.0 332.7,498.0 340.0,498.8 350.0,503.8 360.0,510.0 370.0,515.5 380.0,519.5 390.0,521.3 402.5,523.0 415.1,526.3 427.6,528.8 440.1,531.3 450.1,533.0 460.1,533.8 470.1,532.5 480.1,531.3 487.6,530.8 495.1,532.0 505.1,533.8 515.1,535.0 525.1,535.8 535.1,537.0 545.2,537.5 555.2,537.5 565.2,537.5 575.2,536.3 585.2,533.8 595.2,531.3 605.2,529.3 612.7,528.8 620.2,530.5 630.2,533.0 640.2,535.5 650.2,538.8 660.2,540.8 670.2,542.5 680.3,543.8 690.3,543.3 699.0,543.0 700.0,543.0 710.0,542.0 720.0,539.5 730.0,537.5 740.0,535.5 750.0,533.8 762.5,531.3 775.1,528.0 785.1,525.5 795.1,523.8 802.6,523.0 810.1,524.5 820.1,528.0 830.1,531.8 840.1,534.5 850.1,537.0 860.1,539.0 870.1,540.5 880.1,540.8 890.1,540.0 900.2,538.0 912.7,536.3 925.2,534.5 937.7,533.8 950.2,532.5 962.7,531.3 975.2,530.0 987.7,529.3 1000.2,528.8 1010.2,528.3 1020.2,530.0 1030.2,532.5 1040.3,534.5 1050.3,535.0 1059.0,534.5 1060.0,535.0 1070.0,533.3 1080.0,532.5 1085.0,532.5 1095.0,535.0 1105.0,537.0 1115.0,538.8 1125.0,540.8 1135.1,541.3 1145.1,540.8 1155.1,539.5 1165.1,537.0 1175.1,533.8 1185.1,531.3 1195.1,530.0 1202.6,530.0 1210.1,532.5 1220.1,534.5 1230.1,536.3 1240.1,537.0 1250.1,537.0 1260.2,536.3 1272.7,535.8 1285.2,535.8 1297.7,535.5 1307.7,535.0 1315.2,533.0 1325.2,529.5 1335.2,525.5 1345.2,522.0 1355.2,520.0 1365.2,518.0 1375.2,516.3 1385.2,515.0 1395.3,515.5 1405.3,515.8 1415.3,515.0 1422.8,514.5 1431.5,513.8" fill="none" stroke="#ff7f0e" stroke-width="1.15" stroke-linejoin="round" />
<g shape-rendering="crispEdges">
<line x1="0" x2="1460" y1="587.5" y2="587.5" stroke="#333"/>
<rect x="0" y="559" width="1432" height="12" fill="#bbbbbb"/><rect x="221" y="559" width="1" height="12" fill="#aaa"/><line x1="0" x2="1432" y1="570.5" y2="570.5" stroke="#555"/><line x1="0" x2="1432" y1="570.5" y2="570.5" stroke="#111" stroke-dasharray="5 1"/><rect x="0" y="559" width="1" height="12" fill="#000"/><rect x="1431" y="559" width="1" height="12" fill="#000"/>
<rect x="0" y="604" width="1432" height="13" fill="#bbbbbb"/><rect x="221" y="604" width="1" height="13" fill="#aaa"/><line x1="0" x2="1432" y1="604.5" y2="604.5" stroke="#555"/><line x1="0" x2="1432" y1="604.5" y2="604.5" stroke="#111" stroke-dasharray="5 1"/><rect x="0" y="604" width="1" height="13" fill="#000"/><rect x="1431" y="604" width="1" height="13" fill="#000"/>
</g>
<polyline points="0.0,607.0 10.0,603.8 20.0,603.8 25.0,608.0 30.0,606.3 35.0,605.8 40.0,603.3 47.5,606.3 55.0,609.3 62.5,608.3 72.6,608.8 77.6,605.0 85.1,592.5 91.3,586.3 97.6,587.5 105.1,593.8 111.3,598.8 117.6,592.5 125.1,581.3 130.1,587.5 136.4,600.0 141.4,608.8 145.1,610.0 150.1,605.0 155.1,592.5 160.1,577.5 165.1,567.5 170.1,566.3 176.4,569.5 182.6,567.5 190.1,563.0 197.6,560.5 207.7,560.0 217.7,562.0 227.7,563.0 235.2,561.3 241.4,559.5 247.7,562.5 252.7,567.0 257.7,569.5 265.2,564.5 271.5,560.5 277.7,562.0 285.2,565.0 291.5,567.0 299.0,566.3 306.5,565.0 312.7,567.5 319.0,566.3 325.2,567.0 331.5,570.0 336.5,576.3 341.5,590.0 346.5,603.8 351.5,611.3 357.8,612.0 364.0,613.0 370.0,610.5 377.5,602.5 385.0,593.8 392.5,589.5 400.0,591.3 407.5,597.0 416.3,599.5 421.3,595.0 428.8,602.5 436.3,609.5 442.6,608.8 450.1,602.5 457.6,596.3 466.3,591.3 472.6,581.3 477.6,572.5 482.6,570.5 487.6,580.0 492.6,592.5 497.6,605.0 502.6,612.0 507.6,606.3 513.9,607.0 520.1,605.5 527.6,607.0 532.6,608.8 537.6,612.0 545.1,608.8 555.1,602.5 562.6,600.8 567.6,599.5 572.7,590.0 577.7,578.8 582.7,570.0 590.2,570.5 597.7,573.0 605.2,572.0 611.4,580.0 616.4,595.0 621.4,606.3 626.4,611.3 632.7,612.5 640.2,611.3 647.7,611.3 652.7,613.0 660.2,608.8 667.7,606.3 677.7,608.8 682.7,605.0 687.7,592.5 692.7,584.5 697.7,587.0 705.3,586.3 710.3,583.8 717.8,575.0 724.0,568.8 729.0,567.0 735.3,571.3 740.0,572.5 743.8,573.8 748.8,582.5 756.3,580.0 763.8,572.0 771.3,570.0 777.5,566.3 783.8,570.0 790.0,573.8 797.5,581.3 803.8,585.0 808.8,597.5 813.8,607.5 818.8,614.5 825.1,613.0 832.6,610.5 840.1,606.3 847.6,603.3 853.8,607.5 860.1,610.0 867.6,607.5 873.9,603.8 878.9,600.8 883.9,593.8 888.9,582.5 893.9,572.5 898.9,566.3 902.6,576.3 908.9,582.5 913.9,586.3 918.9,581.3 926.4,583.8 935.1,592.5 941.4,590.0 947.7,586.3 953.9,581.3 960.2,581.3 968.9,587.5 973.9,580.8 978.9,579.5 986.4,586.3 993.9,590.0 998.9,582.5 1003.9,579.5 1010.2,585.0 1015.2,597.5 1020.2,607.5 1025.2,610.5 1032.7,609.5 1039.0,602.5 1044.0,593.8 1050.2,584.5 1055.2,582.5 1060.2,589.5 1065.2,592.5 1070.2,591.3 1075.3,584.5 1080.3,583.0 1086.5,587.5 1091.5,597.5 1096.5,603.8 1100.0,608.3 1106.3,606.3 1115.0,607.5 1125.0,611.3 1130.0,606.3 1136.3,600.0 1143.8,597.0 1150.0,593.8 1155.0,582.5 1160.0,568.8 1165.5,561.3 1171.3,565.0 1177.6,570.0 1186.3,577.5 1197.6,584.5 1202.6,592.5 1208.8,607.5 1215.1,613.8 1220.1,612.0 1225.1,608.8 1230.1,608.3 1236.4,605.0 1241.4,602.5 1246.4,598.0 1251.4,595.8 1256.4,594.5 1263.9,596.3 1271.4,598.0 1275.1,596.3 1281.4,600.8 1287.6,598.8 1293.9,596.3 1297.6,594.5 1301.4,590.0 1306.4,591.3 1311.4,580.0 1316.4,577.0 1321.4,568.8 1326.4,570.5 1332.7,566.8 1337.7,566.8 1342.7,570.0 1347.7,576.3 1352.7,578.8 1357.7,577.0 1362.7,570.0 1367.7,565.0 1371.5,564.5 1375.2,570.0 1381.5,580.0 1387.7,586.3 1395.2,591.3 1401.5,593.8 1406.5,585.0 1411.5,576.3 1416.5,568.8 1421.5,570.5 1426.5,572.5 1431.5,580.0" fill="none" stroke="#ff8c00" stroke-width="1.15" stroke-linejoin="round" />
<polyline points="0.0,608.0 10.0,605.0 20.0,603.8 27.5,606.3 35.0,606.3 42.5,605.0 50.0,606.3 60.0,608.3 70.1,608.8 77.6,607.0 83.8,601.3 90.1,592.5 96.3,588.0 102.6,590.0 110.1,595.0 116.3,595.8 122.6,592.5 130.1,586.3 135.1,588.8 140.1,597.5 146.4,606.3 150.1,607.5 155.1,602.5 160.1,590.0 165.1,577.5 170.1,569.5 176.4,568.0 182.6,568.0 190.1,565.0 197.6,562.0 207.7,560.5 217.7,561.3 227.7,562.5 237.7,562.0 245.2,560.5 251.4,563.8 257.7,567.5 262.7,568.0 269.0,565.0 275.2,562.0 281.5,562.5 287.7,565.0 295.2,566.3 302.7,566.3 310.2,566.3 317.7,567.0 325.2,566.8 331.5,568.0 336.5,571.3 342.8,582.5 347.8,595.0 352.8,606.3 357.8,610.0 365.3,613.0 370.0,612.0 377.5,607.5 385.0,598.8 392.5,592.5 400.0,590.8 407.5,594.5 416.3,598.0 423.8,597.5 431.3,600.0 438.8,606.3 445.1,608.3 452.6,605.0 460.1,600.0 468.8,592.5 475.1,585.0 481.3,576.3 486.3,573.3 491.3,578.8 496.3,590.0 501.3,601.3 506.4,607.5 512.6,608.3 518.9,605.8 527.6,606.8 535.1,608.8 542.6,610.5 547.6,610.0 555.1,605.0 562.6,602.5 567.6,601.3 573.9,595.0 580.2,583.8 586.4,573.8 592.7,570.8 600.2,571.3 606.4,572.5 612.7,578.8 618.9,591.3 623.9,602.5 628.9,610.0 633.9,612.0 641.5,611.8 650.2,611.8 657.7,611.3 665.2,608.8 672.7,607.5 680.2,608.0 685.2,605.0 690.2,596.3 695.2,589.5 700.2,586.3 707.8,586.8 714.0,584.5 720.3,577.5 726.5,571.3 731.5,568.8 737.8,570.0 740.0,570.5 747.5,576.3 757.5,581.3 765.0,576.3 772.5,571.3 780.0,568.8 787.5,570.5 795.0,576.3 803.8,582.5 811.3,595.0 817.6,605.0 823.8,611.3 830.1,613.0 838.8,609.5 847.6,605.0 855.1,606.3 862.6,608.3 868.8,608.3 876.4,604.5 882.6,600.0 888.9,592.5 893.9,582.5 900.1,572.5 903.9,571.3 908.9,575.0 915.1,582.5 921.4,583.8 928.9,583.8 936.4,588.0 943.9,591.8 951.4,587.5 960.2,582.5 965.2,583.0 971.4,585.0 977.7,583.8 983.9,582.0 990.2,585.0 995.2,588.3 1001.4,585.0 1009.0,582.0 1014.0,586.3 1019.0,595.0 1024.0,603.8 1030.2,609.5 1035.2,608.8 1041.5,603.8 1047.7,595.0 1054.0,587.5 1059.0,585.5 1064.0,588.0 1070.2,591.3 1076.5,588.8 1084.0,585.5 1089.0,588.8 1095.3,597.5 1100.0,602.5 1106.3,606.3 1115.0,607.0 1125.0,609.5 1131.3,608.8 1137.5,603.8 1143.8,599.5 1150.0,596.3 1156.3,588.8 1162.5,576.3 1167.6,567.5 1171.3,565.0 1175.1,565.0 1182.6,571.3 1191.3,577.5 1200.1,583.8 1205.1,592.5 1211.3,602.5 1216.3,610.0 1221.3,612.0 1227.6,610.5 1233.9,607.5 1240.1,605.8 1247.6,601.3 1253.9,597.5 1260.1,595.5 1267.6,595.8 1275.1,597.0 1282.6,598.8 1290.1,599.5 1296.4,597.0 1302.7,593.3 1306.4,592.0 1311.4,586.3 1316.4,581.3 1321.4,574.5 1327.7,570.5 1333.9,568.0 1340.2,567.5 1346.4,571.3 1352.7,575.5 1357.7,577.5 1362.7,575.0 1369.0,568.8 1374.0,566.3 1377.7,567.0 1384.0,575.0 1390.2,582.5 1397.7,589.5 1404.0,591.8 1409.0,587.5 1415.2,578.8 1420.2,573.0 1425.2,570.8 1431.5,573.8" fill="none" stroke="#2b4bff" stroke-width="1.15" stroke-linejoin="round" />
<g shape-rendering="crispEdges" fill="#666">
<rect x="720" y="398" width="20" height="1"/>
<rect x="720" y="400" width="20" height="1"/>
<rect x="720" y="402" width="20" height="1"/>
<rect x="720" y="488" width="20" height="1"/>
<rect x="720" y="490" width="20" height="1"/>
<rect x="720" y="492" width="20" height="1"/>
<rect x="720" y="551" width="20" height="1"/>
<rect x="720" y="553" width="20" height="1"/>
<rect x="720" y="555" width="20" height="1"/>
</g>
<g shape-rendering="crispEdges" fill="#fff"><rect x="730" y="395" width="1" height="1"/><rect x="730" y="404" width="1" height="1"/><rect x="730" y="485" width="1" height="1"/><rect x="730" y="494" width="1" height="1"/><rect x="730" y="548" width="1" height="1"/><rect x="730" y="557" width="1" height="1"/></g>
<rect x="5" y="5" width="78" height="21" fill="rgba(0,0,0,0.6)"/><rect x="5" y="5" width="2" height="21" fill="#008000"/><text x="15.4" y="19.8" class="lb">AUD/USD</text>
<rect x="5" y="32" width="84" height="21" fill="rgba(0,0,0,0.6)"/><rect x="5" y="32" width="2" height="21" fill="#ff0000"/><text x="15.4" y="46.8" class="lb">SMA (50,0)</text>
<rect x="5" y="59" width="90" height="21" fill="rgba(0,0,0,0.6)"/><rect x="5" y="59" width="2" height="21" fill="#0047c8"/><text x="15.4" y="73.8" class="lb">SMA (100,0)</text>
<rect x="5" y="86" width="90" height="21" fill="rgba(0,0,0,0.6)"/><rect x="5" y="86" width="2" height="21" fill="#ff00ff"/><text x="15.4" y="100.8" class="lb">SMA (200,0)</text>
<rect x="5" y="409" width="110" height="21" fill="rgba(0,0,0,0.6)"/><rect x="5" y="409" width="2" height="21" fill="#0000ff"/><text x="15.8" y="423.2" class="lb">RSI (14,70,30,1)</text>
<rect x="5" y="499" width="109" height="21" fill="rgba(0,0,0,0.6)"/><rect x="5" y="499" width="2" height="21" fill="#0000ff"/><text x="15.8" y="513.2" class="lb">MACD (12,26,9)</text>
<rect x="5" y="562" width="138" height="21" fill="rgba(0,0,0,0.6)"/><rect x="5" y="562" width="2" height="21" fill="#ff8c00"/><text x="15.8" y="576.2" class="lb">FUSTO (14,3,3,80,20)</text>
<g stroke="#777" stroke-width="1">
<line x1="1462" x2="1467" y1="20.40" y2="20.40"/>
<line x1="1462" x2="1467" y1="54.42" y2="54.42"/>
<line x1="1462" x2="1467" y1="88.44" y2="88.44"/>
<line x1="1462" x2="1467" y1="122.46" y2="122.46"/>
<line x1="1462" x2="1467" y1="156.48" y2="156.48"/>
<line x1="1462" x2="1467" y1="190.50" y2="190.50"/>
<line x1="1462" x2="1467" y1="224.52" y2="224.52"/>
<line x1="1462" x2="1467" y1="258.54" y2="258.54"/>
<line x1="1462" x2="1467" y1="292.56" y2="292.56"/>
<line x1="1462" x2="1467" y1="326.58" y2="326.58"/>
<line x1="1462" x2="1467" y1="360.60" y2="360.60"/>
<line x1="1462" x2="1467" y1="394.62" y2="394.62"/>
<line x1="1462" x2="1467" y1="445.30" y2="445.30"/>
<line x1="1462" x2="1467" y1="484.00" y2="484.00"/>
<line x1="1462" x2="1467" y1="525.00" y2="525.00"/>
<line x1="1462" x2="1467" y1="587.50" y2="587.50"/>
<line x1="1462" x2="1467" y1="616.00" y2="616.00"/>
</g>
<text x="1469" y="24.80" class="ax">0.8100</text>
<text x="1469" y="58.82" class="ax">0.8000</text>
<text x="1469" y="92.84" class="ax">0.7900</text>
<text x="1469" y="126.86" class="ax">0.7800</text>
<text x="1469" y="160.88" class="ax">0.7700</text>
<text x="1469" y="194.90" class="ax">0.7600</text>
<text x="1469" y="228.92" class="ax">0.7500</text>
<text x="1469" y="262.94" class="ax">0.7400</text>
<text x="1469" y="296.96" class="ax">0.7300</text>
<text x="1469" y="330.98" class="ax">0.7200</text>
<text x="1469" y="365.00" class="ax">0.7100</text>
<text x="1469" y="399.02" class="ax">0.7000</text>
<text x="1469" y="449.40" class="ax">50.0000</text>
<text x="1469" y="488.10" class="ax">0.0000</text>
<text x="1469" y="529.10" class="ax">0.0000</text>
<text x="1469" y="591.60" class="ax">50.0000</text>
<text x="1469" y="620.10" class="ax">0.0000</text>
<rect x="1464.2" y="294.7" width="49" height="16" rx="1.5" fill="#2e4a75"/><path d="M1461.7,302.6 L1464.4,300.2 V305 Z" fill="#2e4a75"/>
<text x="1469" y="307" class="lb">0.72728</text>
<g shape-rendering="crispEdges" fill="#555">
<rect x="0" y="618" width="1" height="2"/>
<rect x="35" y="618" width="1" height="2"/>
<rect x="70" y="618" width="1" height="2"/>
<rect x="115" y="618" width="1" height="2"/>
<rect x="145" y="618" width="1" height="2"/>
<rect x="175" y="618" width="1" height="2"/>
<rect x="221" y="618" width="1" height="2"/>
<rect x="251" y="618" width="1" height="2"/>
<rect x="280" y="618" width="1" height="2"/>
<rect x="311" y="618" width="1" height="2"/>
<rect x="336" y="618" width="1" height="2"/>
<rect x="366" y="618" width="1" height="2"/>
<rect x="397" y="618" width="1" height="2"/>
<rect x="436" y="618" width="1" height="2"/>
<rect x="467" y="618" width="1" height="2"/>
<rect x="497" y="618" width="1" height="2"/>
<rect x="527" y="618" width="1" height="2"/>
<rect x="547" y="618" width="1" height="2"/>
<rect x="577" y="618" width="1" height="2"/>
<rect x="608" y="618" width="1" height="2"/>
<rect x="647" y="618" width="1" height="2"/>
<rect x="678" y="618" width="1" height="2"/>
<rect x="708" y="618" width="1" height="2"/>
<rect x="738" y="618" width="1" height="2"/>
<rect x="763" y="618" width="1" height="2"/>
<rect x="793" y="618" width="1" height="2"/>
<rect x="823" y="618" width="1" height="2"/>
<rect x="869" y="618" width="1" height="2"/>
<rect x="899" y="618" width="1" height="2"/>
<rect x="929" y="618" width="1" height="2"/>
<rect x="959" y="618" width="1" height="2"/>
<rect x="979" y="618" width="1" height="2"/>
<rect x="1009" y="618" width="1" height="2"/>
<rect x="1039" y="618" width="1" height="2"/>
<rect x="1069" y="618" width="1" height="2"/>
<rect x="1094" y="618" width="1" height="2"/>
<rect x="1125" y="618" width="1" height="2"/>
<rect x="1155" y="618" width="1" height="2"/>
<rect x="1195" y="618" width="1" height="2"/>
<rect x="1225" y="618" width="1" height="2"/>
<rect x="1255" y="618" width="1" height="2"/>
<rect x="1285" y="618" width="1" height="2"/>
<rect x="1310" y="618" width="1" height="2"/>
<rect x="1340" y="618" width="1" height="2"/>
<rect x="1371" y="618" width="1" height="2"/>
<rect x="1401" y="618" width="1" height="2"/>
<rect x="1421" y="618" width="1" height="2"/>
</g>
<text x="0.4" y="634" class="ax">Oct</text>
<text x="35.3" y="634" class="ax" text-anchor="middle">9</text>
<text x="70.3" y="634" class="ax" text-anchor="middle">20</text>
<text x="115.5" y="634" class="ax" text-anchor="middle">Dec</text>
<text x="145.7" y="634" class="ax" text-anchor="middle">11</text>
<text x="175.6" y="634" class="ax" text-anchor="middle">19</text>
<text x="221.1" y="634" class="ax" text-anchor="middle">'18</text>
<text x="251.0" y="634" class="ax" text-anchor="middle">9</text>
<text x="280.9" y="634" class="ax" text-anchor="middle">17</text>
<text x="311.5" y="634" class="ax" text-anchor="middle">25</text>
<text x="336.6" y="634" class="ax" text-anchor="middle">Feb</text>
<text x="366.5" y="634" class="ax" text-anchor="middle">9</text>
<text x="397.0" y="634" class="ax" text-anchor="middle">19</text>
<text x="436.8" y="634" class="ax" text-anchor="middle">Mar</text>
<text x="467.4" y="634" class="ax" text-anchor="middle">9</text>
<text x="497.6" y="634" class="ax" text-anchor="middle">19</text>
<text x="527.2" y="634" class="ax" text-anchor="middle">27</text>
<text x="547.6" y="634" class="ax" text-anchor="middle">Apr</text>
<text x="577.8" y="634" class="ax" text-anchor="middle">11</text>
<text x="608.0" y="634" class="ax" text-anchor="middle">19</text>
<text x="647.8" y="634" class="ax" text-anchor="middle">May</text>
<text x="678.0" y="634" class="ax" text-anchor="middle">9</text>
<text x="708.2" y="634" class="ax" text-anchor="middle">17</text>
<text x="738.5" y="634" class="ax" text-anchor="middle">25</text>
<text x="763.6" y="634" class="ax" text-anchor="middle">Jun</text>
<text x="793.8" y="634" class="ax" text-anchor="middle">11</text>
<text x="823.7" y="634" class="ax" text-anchor="middle">19</text>
<text x="869.2" y="634" class="ax" text-anchor="middle">Jul</text>
<text x="899.5" y="634" class="ax" text-anchor="middle">10</text>
<text x="929.7" y="634" class="ax" text-anchor="middle">18</text>
<text x="959.2" y="634" class="ax" text-anchor="middle">26</text>
<text x="979.3" y="634" class="ax" text-anchor="middle">Aug</text>
<text x="1009.5" y="634" class="ax" text-anchor="middle">9</text>
<text x="1039.5" y="634" class="ax" text-anchor="middle">17</text>
<text x="1069.8" y="634" class="ax" text-anchor="middle">27</text>
<text x="1094.9" y="634" class="ax" text-anchor="middle">Sep</text>
<text x="1125.5" y="634" class="ax" text-anchor="middle">11</text>
<text x="1155.4" y="634" class="ax" text-anchor="middle">19</text>
<text x="1195.4" y="634" class="ax" text-anchor="middle">Oct</text>
<text x="1225.3" y="634" class="ax" text-anchor="middle">9</text>
<text x="1255.9" y="634" class="ax" text-anchor="middle">17</text>
<text x="1285.5" y="634" class="ax" text-anchor="middle">25</text>
<text x="1310.9" y="634" class="ax" text-anchor="middle">Nov</text>
<text x="1340.8" y="634" class="ax" text-anchor="middle">9</text>
<text x="1371.4" y="634" class="ax" text-anchor="middle">19</text>
<text x="1401.6" y="634" class="ax" text-anchor="middle">27</text>
<text x="1421.3" y="634" class="ax" text-anchor="middle">Dec</text>
</svg></body></html>
